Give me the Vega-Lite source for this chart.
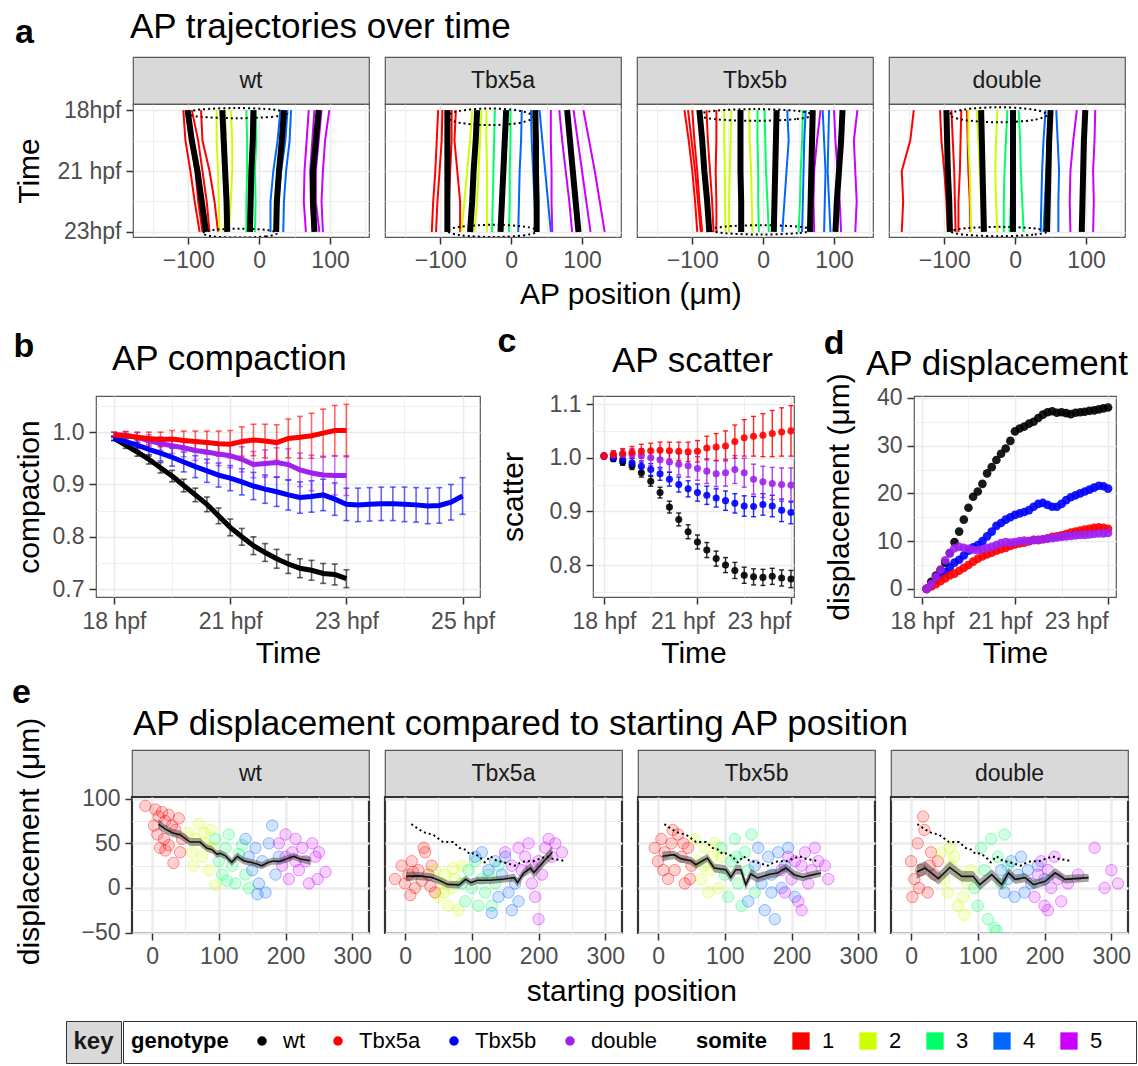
{
"$schema": "https://vega.github.io/schema/vega-lite/v6.json",
"padding": {"left": 12, "top": 9, "right": 4, "bottom": 4},
"background": "white",
"config": {
 "font": "Liberation Sans",
 "view": {"stroke": "#595959", "strokeWidth": 1.2},
 "axis": {"labelFont": "Liberation Sans", "titleFont": "Liberation Sans", "labelFontSize": 23, "labelColor": "#4d4d4d", "titleFontSize": 30, "titleFontWeight": "normal", "titleColor": "#000000", "tickColor": "#333333", "tickSize": 7, "tickWidth": 1.5, "domain": false, "grid": true, "gridColor": "#ebebeb", "labelPadding": 5},
 "title": {"font": "Liberation Sans", "fontSize": 35, "fontWeight": "normal", "color": "#000000"},
 "legend": {"labelFont": "Liberation Sans", "titleFont": "Liberation Sans"},
 "text": {"font": "Liberation Sans"}
},
"datasets": {
"traj": [
{"g":"wt","s":0,"i":"wm1","t":0,"x":-101},{"g":"wt","s":0,"i":"wm1","t":15,"x":-95},{"g":"wt","s":0,"i":"wm1","t":30,"x":-87},{"g":"wt","s":0,"i":"wm1","t":45,"x":-81},{"g":"wt","s":0,"i":"wm1","t":60,"x":-75},
{"g":"wt","s":0,"i":"wm2","t":0,"x":-52},{"g":"wt","s":0,"i":"wm2","t":15,"x":-50},{"g":"wt","s":0,"i":"wm2","t":30,"x":-48},{"g":"wt","s":0,"i":"wm2","t":45,"x":-46},{"g":"wt","s":0,"i":"wm2","t":60,"x":-45},
{"g":"wt","s":0,"i":"wm3","t":0,"x":-8},{"g":"wt","s":0,"i":"wm3","t":15,"x":-9},{"g":"wt","s":0,"i":"wm3","t":30,"x":-11},{"g":"wt","s":0,"i":"wm3","t":45,"x":-12},{"g":"wt","s":0,"i":"wm3","t":60,"x":-13},
{"g":"wt","s":0,"i":"wm4","t":0,"x":35},{"g":"wt","s":0,"i":"wm4","t":15,"x":32},{"g":"wt","s":0,"i":"wm4","t":30,"x":28},{"g":"wt","s":0,"i":"wm4","t":45,"x":25},{"g":"wt","s":0,"i":"wm4","t":60,"x":24},
{"g":"wt","s":0,"i":"wm5","t":0,"x":84},{"g":"wt","s":0,"i":"wm5","t":15,"x":80},{"g":"wt","s":0,"i":"wm5","t":30,"x":76},{"g":"wt","s":0,"i":"wm5","t":45,"x":76},{"g":"wt","s":0,"i":"wm5","t":60,"x":78},
{"g":"wt","s":1,"i":"w1a","t":0,"x":-107},{"g":"wt","s":1,"i":"w1a","t":15,"x":-104},{"g":"wt","s":1,"i":"w1a","t":30,"x":-97},{"g":"wt","s":1,"i":"w1a","t":45,"x":-91},{"g":"wt","s":1,"i":"w1a","t":60,"x":-84},
{"g":"wt","s":1,"i":"w1b","t":0,"x":-103},{"g":"wt","s":1,"i":"w1b","t":15,"x":-96},{"g":"wt","s":1,"i":"w1b","t":30,"x":-90},{"g":"wt","s":1,"i":"w1b","t":45,"x":-86},{"g":"wt","s":1,"i":"w1b","t":60,"x":-80},
{"g":"wt","s":1,"i":"w1c","t":0,"x":-95},{"g":"wt","s":1,"i":"w1c","t":15,"x":-86},{"g":"wt","s":1,"i":"w1c","t":30,"x":-80},{"g":"wt","s":1,"i":"w1c","t":45,"x":-74},{"g":"wt","s":1,"i":"w1c","t":60,"x":-70},
{"g":"wt","s":1,"i":"w1d","t":0,"x":-82},{"g":"wt","s":1,"i":"w1d","t":15,"x":-80},{"g":"wt","s":1,"i":"w1d","t":30,"x":-70},{"g":"wt","s":1,"i":"w1d","t":45,"x":-63},{"g":"wt","s":1,"i":"w1d","t":60,"x":-58},
{"g":"wt","s":2,"i":"w2a","t":0,"x":-60},{"g":"wt","s":2,"i":"w2a","t":15,"x":-60},{"g":"wt","s":2,"i":"w2a","t":30,"x":-58},{"g":"wt","s":2,"i":"w2a","t":45,"x":-57},{"g":"wt","s":2,"i":"w2a","t":60,"x":-56},
{"g":"wt","s":2,"i":"w2b","t":0,"x":-48},{"g":"wt","s":2,"i":"w2b","t":15,"x":-47},{"g":"wt","s":2,"i":"w2b","t":30,"x":-47},{"g":"wt","s":2,"i":"w2b","t":45,"x":-48},{"g":"wt","s":2,"i":"w2b","t":60,"x":-49},
{"g":"wt","s":2,"i":"w2c","t":0,"x":-40},{"g":"wt","s":2,"i":"w2c","t":15,"x":-38},{"g":"wt","s":2,"i":"w2c","t":30,"x":-38},{"g":"wt","s":2,"i":"w2c","t":45,"x":-40},{"g":"wt","s":2,"i":"w2c","t":60,"x":-43},
{"g":"wt","s":3,"i":"w3a","t":0,"x":-18},{"g":"wt","s":3,"i":"w3a","t":15,"x":-17},{"g":"wt","s":3,"i":"w3a","t":30,"x":-17},{"g":"wt","s":3,"i":"w3a","t":45,"x":-18},{"g":"wt","s":3,"i":"w3a","t":60,"x":-18},
{"g":"wt","s":3,"i":"w3b","t":0,"x":-5},{"g":"wt","s":3,"i":"w3b","t":15,"x":-4},{"g":"wt","s":3,"i":"w3b","t":30,"x":-6},{"g":"wt","s":3,"i":"w3b","t":45,"x":-5},{"g":"wt","s":3,"i":"w3b","t":60,"x":-6},
{"g":"wt","s":4,"i":"w4a","t":0,"x":30},{"g":"wt","s":4,"i":"w4a","t":15,"x":26},{"g":"wt","s":4,"i":"w4a","t":30,"x":20},{"g":"wt","s":4,"i":"w4a","t":45,"x":16},{"g":"wt","s":4,"i":"w4a","t":60,"x":16},
{"g":"wt","s":4,"i":"w4b","t":0,"x":40},{"g":"wt","s":4,"i":"w4b","t":15,"x":37},{"g":"wt","s":4,"i":"w4b","t":30,"x":31},{"g":"wt","s":4,"i":"w4b","t":45,"x":27},{"g":"wt","s":4,"i":"w4b","t":60,"x":25},
{"g":"wt","s":4,"i":"w4c","t":0,"x":45},{"g":"wt","s":4,"i":"w4c","t":15,"x":43},{"g":"wt","s":4,"i":"w4c","t":30,"x":38},{"g":"wt","s":4,"i":"w4c","t":45,"x":35},{"g":"wt","s":4,"i":"w4c","t":60,"x":34},
{"g":"wt","s":5,"i":"w5a","t":0,"x":70},{"g":"wt","s":5,"i":"w5a","t":15,"x":67},{"g":"wt","s":5,"i":"w5a","t":30,"x":64},{"g":"wt","s":5,"i":"w5a","t":45,"x":63},{"g":"wt","s":5,"i":"w5a","t":60,"x":66},
{"g":"wt","s":5,"i":"w5b","t":0,"x":78},{"g":"wt","s":5,"i":"w5b","t":15,"x":75},{"g":"wt","s":5,"i":"w5b","t":30,"x":72},{"g":"wt","s":5,"i":"w5b","t":45,"x":73},{"g":"wt","s":5,"i":"w5b","t":60,"x":76},
{"g":"wt","s":5,"i":"w5c","t":0,"x":88},{"g":"wt","s":5,"i":"w5c","t":15,"x":84},{"g":"wt","s":5,"i":"w5c","t":30,"x":80},{"g":"wt","s":5,"i":"w5c","t":45,"x":80},{"g":"wt","s":5,"i":"w5c","t":60,"x":85},
{"g":"wt","s":5,"i":"w5d","t":0,"x":99},{"g":"wt","s":5,"i":"w5d","t":15,"x":93},{"g":"wt","s":5,"i":"w5d","t":30,"x":90},{"g":"wt","s":5,"i":"w5d","t":45,"x":88},{"g":"wt","s":5,"i":"w5d","t":60,"x":90},
{"g":"Tbx5a","s":0,"i":"am1","t":0,"x":-90},{"g":"Tbx5a","s":0,"i":"am1","t":15,"x":-90},{"g":"Tbx5a","s":0,"i":"am1","t":30,"x":-90},{"g":"Tbx5a","s":0,"i":"am1","t":45,"x":-90},{"g":"Tbx5a","s":0,"i":"am1","t":60,"x":-90},
{"g":"Tbx5a","s":0,"i":"am2","t":0,"x":-48},{"g":"Tbx5a","s":0,"i":"am2","t":15,"x":-50},{"g":"Tbx5a","s":0,"i":"am2","t":30,"x":-53},{"g":"Tbx5a","s":0,"i":"am2","t":45,"x":-55},{"g":"Tbx5a","s":0,"i":"am2","t":60,"x":-58},
{"g":"Tbx5a","s":0,"i":"am3","t":0,"x":-7},{"g":"Tbx5a","s":0,"i":"am3","t":15,"x":-9},{"g":"Tbx5a","s":0,"i":"am3","t":30,"x":-11},{"g":"Tbx5a","s":0,"i":"am3","t":45,"x":-13},{"g":"Tbx5a","s":0,"i":"am3","t":60,"x":-15},
{"g":"Tbx5a","s":0,"i":"am4","t":0,"x":34},{"g":"Tbx5a","s":0,"i":"am4","t":15,"x":35},{"g":"Tbx5a","s":0,"i":"am4","t":30,"x":35},{"g":"Tbx5a","s":0,"i":"am4","t":45,"x":36},{"g":"Tbx5a","s":0,"i":"am4","t":60,"x":36},
{"g":"Tbx5a","s":0,"i":"am5","t":0,"x":79},{"g":"Tbx5a","s":0,"i":"am5","t":15,"x":83},{"g":"Tbx5a","s":0,"i":"am5","t":30,"x":87},{"g":"Tbx5a","s":0,"i":"am5","t":45,"x":91},{"g":"Tbx5a","s":0,"i":"am5","t":60,"x":95},
{"g":"Tbx5a","s":1,"i":"a1a","t":0,"x":-103},{"g":"Tbx5a","s":1,"i":"a1a","t":15,"x":-105},{"g":"Tbx5a","s":1,"i":"a1a","t":30,"x":-107},{"g":"Tbx5a","s":1,"i":"a1a","t":45,"x":-110},{"g":"Tbx5a","s":1,"i":"a1a","t":60,"x":-112},
{"g":"Tbx5a","s":1,"i":"a1b","t":0,"x":-97},{"g":"Tbx5a","s":1,"i":"a1b","t":15,"x":-98},{"g":"Tbx5a","s":1,"i":"a1b","t":30,"x":-101},{"g":"Tbx5a","s":1,"i":"a1b","t":45,"x":-104},{"g":"Tbx5a","s":1,"i":"a1b","t":60,"x":-106},
{"g":"Tbx5a","s":1,"i":"a1c","t":0,"x":-84},{"g":"Tbx5a","s":1,"i":"a1c","t":15,"x":-84},{"g":"Tbx5a","s":1,"i":"a1c","t":30,"x":-86},{"g":"Tbx5a","s":1,"i":"a1c","t":45,"x":-88},{"g":"Tbx5a","s":1,"i":"a1c","t":60,"x":-89},
{"g":"Tbx5a","s":1,"i":"a1d","t":0,"x":-78},{"g":"Tbx5a","s":1,"i":"a1d","t":15,"x":-80},{"g":"Tbx5a","s":1,"i":"a1d","t":30,"x":-76},{"g":"Tbx5a","s":1,"i":"a1d","t":45,"x":-72},{"g":"Tbx5a","s":1,"i":"a1d","t":60,"x":-72},
{"g":"Tbx5a","s":2,"i":"a2a","t":0,"x":-55},{"g":"Tbx5a","s":2,"i":"a2a","t":15,"x":-58},{"g":"Tbx5a","s":2,"i":"a2a","t":30,"x":-62},{"g":"Tbx5a","s":2,"i":"a2a","t":45,"x":-66},{"g":"Tbx5a","s":2,"i":"a2a","t":60,"x":-70},
{"g":"Tbx5a","s":2,"i":"a2b","t":0,"x":-42},{"g":"Tbx5a","s":2,"i":"a2b","t":15,"x":-44},{"g":"Tbx5a","s":2,"i":"a2b","t":30,"x":-46},{"g":"Tbx5a","s":2,"i":"a2b","t":45,"x":-48},{"g":"Tbx5a","s":2,"i":"a2b","t":60,"x":-52},
{"g":"Tbx5a","s":2,"i":"a2c","t":0,"x":-35},{"g":"Tbx5a","s":2,"i":"a2c","t":15,"x":-35},{"g":"Tbx5a","s":2,"i":"a2c","t":30,"x":-34},{"g":"Tbx5a","s":2,"i":"a2c","t":45,"x":-34},{"g":"Tbx5a","s":2,"i":"a2c","t":60,"x":-34},
{"g":"Tbx5a","s":3,"i":"a3a","t":0,"x":-23},{"g":"Tbx5a","s":3,"i":"a3a","t":15,"x":-24},{"g":"Tbx5a","s":3,"i":"a3a","t":30,"x":-25},{"g":"Tbx5a","s":3,"i":"a3a","t":45,"x":-26},{"g":"Tbx5a","s":3,"i":"a3a","t":60,"x":-27},
{"g":"Tbx5a","s":3,"i":"a3b","t":0,"x":-1},{"g":"Tbx5a","s":3,"i":"a3b","t":15,"x":-1},{"g":"Tbx5a","s":3,"i":"a3b","t":30,"x":-2},{"g":"Tbx5a","s":3,"i":"a3b","t":45,"x":-2},{"g":"Tbx5a","s":3,"i":"a3b","t":60,"x":-3},
{"g":"Tbx5a","s":4,"i":"a4a","t":0,"x":15},{"g":"Tbx5a","s":4,"i":"a4a","t":15,"x":14},{"g":"Tbx5a","s":4,"i":"a4a","t":30,"x":12},{"g":"Tbx5a","s":4,"i":"a4a","t":45,"x":11},{"g":"Tbx5a","s":4,"i":"a4a","t":60,"x":10},
{"g":"Tbx5a","s":4,"i":"a4b","t":0,"x":28},{"g":"Tbx5a","s":4,"i":"a4b","t":15,"x":29},{"g":"Tbx5a","s":4,"i":"a4b","t":30,"x":31},{"g":"Tbx5a","s":4,"i":"a4b","t":45,"x":33},{"g":"Tbx5a","s":4,"i":"a4b","t":60,"x":35},
{"g":"Tbx5a","s":4,"i":"a4c","t":0,"x":40},{"g":"Tbx5a","s":4,"i":"a4c","t":15,"x":44},{"g":"Tbx5a","s":4,"i":"a4c","t":30,"x":48},{"g":"Tbx5a","s":4,"i":"a4c","t":45,"x":52},{"g":"Tbx5a","s":4,"i":"a4c","t":60,"x":56},
{"g":"Tbx5a","s":5,"i":"a5a","t":0,"x":56},{"g":"Tbx5a","s":5,"i":"a5a","t":15,"x":56},{"g":"Tbx5a","s":5,"i":"a5a","t":30,"x":57},{"g":"Tbx5a","s":5,"i":"a5a","t":45,"x":57},{"g":"Tbx5a","s":5,"i":"a5a","t":60,"x":58},
{"g":"Tbx5a","s":5,"i":"a5b","t":0,"x":68},{"g":"Tbx5a","s":5,"i":"a5b","t":15,"x":72},{"g":"Tbx5a","s":5,"i":"a5b","t":30,"x":77},{"g":"Tbx5a","s":5,"i":"a5b","t":45,"x":82},{"g":"Tbx5a","s":5,"i":"a5b","t":60,"x":86},
{"g":"Tbx5a","s":5,"i":"a5c","t":0,"x":88},{"g":"Tbx5a","s":5,"i":"a5c","t":15,"x":94},{"g":"Tbx5a","s":5,"i":"a5c","t":30,"x":100},{"g":"Tbx5a","s":5,"i":"a5c","t":45,"x":106},{"g":"Tbx5a","s":5,"i":"a5c","t":60,"x":112},
{"g":"Tbx5a","s":5,"i":"a5d","t":0,"x":102},{"g":"Tbx5a","s":5,"i":"a5d","t":15,"x":110},{"g":"Tbx5a","s":5,"i":"a5d","t":30,"x":118},{"g":"Tbx5a","s":5,"i":"a5d","t":45,"x":125},{"g":"Tbx5a","s":5,"i":"a5d","t":60,"x":132},
{"g":"Tbx5b","s":0,"i":"bm1","t":0,"x":-90},{"g":"Tbx5b","s":0,"i":"bm1","t":15,"x":-86},{"g":"Tbx5b","s":0,"i":"bm1","t":30,"x":-83},{"g":"Tbx5b","s":0,"i":"bm1","t":45,"x":-79},{"g":"Tbx5b","s":0,"i":"bm1","t":60,"x":-76},
{"g":"Tbx5b","s":0,"i":"bm2","t":0,"x":-32},{"g":"Tbx5b","s":0,"i":"bm2","t":15,"x":-32},{"g":"Tbx5b","s":0,"i":"bm2","t":30,"x":-32},{"g":"Tbx5b","s":0,"i":"bm2","t":45,"x":-31},{"g":"Tbx5b","s":0,"i":"bm2","t":60,"x":-31},
{"g":"Tbx5b","s":0,"i":"bm3","t":0,"x":19},{"g":"Tbx5b","s":0,"i":"bm3","t":15,"x":18},{"g":"Tbx5b","s":0,"i":"bm3","t":30,"x":17},{"g":"Tbx5b","s":0,"i":"bm3","t":45,"x":16},{"g":"Tbx5b","s":0,"i":"bm3","t":60,"x":15},
{"g":"Tbx5b","s":0,"i":"bm4","t":0,"x":70},{"g":"Tbx5b","s":0,"i":"bm4","t":15,"x":69},{"g":"Tbx5b","s":0,"i":"bm4","t":30,"x":68},{"g":"Tbx5b","s":0,"i":"bm4","t":45,"x":67},{"g":"Tbx5b","s":0,"i":"bm4","t":60,"x":66},
{"g":"Tbx5b","s":0,"i":"bm5","t":0,"x":112},{"g":"Tbx5b","s":0,"i":"bm5","t":15,"x":110},{"g":"Tbx5b","s":0,"i":"bm5","t":30,"x":107},{"g":"Tbx5b","s":0,"i":"bm5","t":45,"x":104},{"g":"Tbx5b","s":0,"i":"bm5","t":60,"x":102},
{"g":"Tbx5b","s":1,"i":"b1a","t":0,"x":-111},{"g":"Tbx5b","s":1,"i":"b1a","t":15,"x":-105},{"g":"Tbx5b","s":1,"i":"b1a","t":30,"x":-100},{"g":"Tbx5b","s":1,"i":"b1a","t":45,"x":-96},{"g":"Tbx5b","s":1,"i":"b1a","t":60,"x":-93},
{"g":"Tbx5b","s":1,"i":"b1b","t":0,"x":-106},{"g":"Tbx5b","s":1,"i":"b1b","t":15,"x":-101},{"g":"Tbx5b","s":1,"i":"b1b","t":30,"x":-96},{"g":"Tbx5b","s":1,"i":"b1b","t":45,"x":-92},{"g":"Tbx5b","s":1,"i":"b1b","t":60,"x":-88},
{"g":"Tbx5b","s":1,"i":"b1c","t":0,"x":-100},{"g":"Tbx5b","s":1,"i":"b1c","t":15,"x":-97},{"g":"Tbx5b","s":1,"i":"b1c","t":30,"x":-93},{"g":"Tbx5b","s":1,"i":"b1c","t":45,"x":-90},{"g":"Tbx5b","s":1,"i":"b1c","t":60,"x":-86},
{"g":"Tbx5b","s":1,"i":"b1d","t":0,"x":-80},{"g":"Tbx5b","s":1,"i":"b1d","t":15,"x":-78},{"g":"Tbx5b","s":1,"i":"b1d","t":30,"x":-75},{"g":"Tbx5b","s":1,"i":"b1d","t":45,"x":-72},{"g":"Tbx5b","s":1,"i":"b1d","t":60,"x":-70},
{"g":"Tbx5b","s":1,"i":"b1e","t":0,"x":-66},{"g":"Tbx5b","s":1,"i":"b1e","t":15,"x":-66},{"g":"Tbx5b","s":1,"i":"b1e","t":30,"x":-67},{"g":"Tbx5b","s":1,"i":"b1e","t":45,"x":-66},{"g":"Tbx5b","s":1,"i":"b1e","t":60,"x":-66},
{"g":"Tbx5b","s":2,"i":"b2a","t":0,"x":-55},{"g":"Tbx5b","s":2,"i":"b2a","t":15,"x":-55},{"g":"Tbx5b","s":2,"i":"b2a","t":30,"x":-54},{"g":"Tbx5b","s":2,"i":"b2a","t":45,"x":-54},{"g":"Tbx5b","s":2,"i":"b2a","t":60,"x":-53},
{"g":"Tbx5b","s":2,"i":"b2b","t":0,"x":-45},{"g":"Tbx5b","s":2,"i":"b2b","t":15,"x":-46},{"g":"Tbx5b","s":2,"i":"b2b","t":30,"x":-47},{"g":"Tbx5b","s":2,"i":"b2b","t":45,"x":-48},{"g":"Tbx5b","s":2,"i":"b2b","t":60,"x":-48},
{"g":"Tbx5b","s":2,"i":"b2c","t":0,"x":-20},{"g":"Tbx5b","s":2,"i":"b2c","t":15,"x":-19},{"g":"Tbx5b","s":2,"i":"b2c","t":30,"x":-17},{"g":"Tbx5b","s":2,"i":"b2c","t":45,"x":-16},{"g":"Tbx5b","s":2,"i":"b2c","t":60,"x":-15},
{"g":"Tbx5b","s":3,"i":"b3a","t":0,"x":-8},{"g":"Tbx5b","s":3,"i":"b3a","t":15,"x":-8},{"g":"Tbx5b","s":3,"i":"b3a","t":30,"x":-7},{"g":"Tbx5b","s":3,"i":"b3a","t":45,"x":-7},{"g":"Tbx5b","s":3,"i":"b3a","t":60,"x":-6},
{"g":"Tbx5b","s":3,"i":"b3b","t":0,"x":2},{"g":"Tbx5b","s":3,"i":"b3b","t":15,"x":3},{"g":"Tbx5b","s":3,"i":"b3b","t":30,"x":4},{"g":"Tbx5b","s":3,"i":"b3b","t":45,"x":6},{"g":"Tbx5b","s":3,"i":"b3b","t":60,"x":8},
{"g":"Tbx5b","s":3,"i":"b3c","t":0,"x":56},{"g":"Tbx5b","s":3,"i":"b3c","t":15,"x":55},{"g":"Tbx5b","s":3,"i":"b3c","t":30,"x":53},{"g":"Tbx5b","s":3,"i":"b3c","t":45,"x":52},{"g":"Tbx5b","s":3,"i":"b3c","t":60,"x":50},
{"g":"Tbx5b","s":4,"i":"b4a","t":0,"x":34},{"g":"Tbx5b","s":4,"i":"b4a","t":15,"x":36},{"g":"Tbx5b","s":4,"i":"b4a","t":30,"x":33},{"g":"Tbx5b","s":4,"i":"b4a","t":45,"x":30},{"g":"Tbx5b","s":4,"i":"b4a","t":60,"x":27},
{"g":"Tbx5b","s":4,"i":"b4b","t":0,"x":60},{"g":"Tbx5b","s":4,"i":"b4b","t":15,"x":58},{"g":"Tbx5b","s":4,"i":"b4b","t":30,"x":57},{"g":"Tbx5b","s":4,"i":"b4b","t":45,"x":56},{"g":"Tbx5b","s":4,"i":"b4b","t":60,"x":55},
{"g":"Tbx5b","s":4,"i":"b4c","t":0,"x":84},{"g":"Tbx5b","s":4,"i":"b4c","t":15,"x":86},{"g":"Tbx5b","s":4,"i":"b4c","t":30,"x":88},{"g":"Tbx5b","s":4,"i":"b4c","t":45,"x":87},{"g":"Tbx5b","s":4,"i":"b4c","t":60,"x":86},
{"g":"Tbx5b","s":4,"i":"b4d","t":0,"x":93},{"g":"Tbx5b","s":4,"i":"b4d","t":15,"x":92},{"g":"Tbx5b","s":4,"i":"b4d","t":30,"x":91},{"g":"Tbx5b","s":4,"i":"b4d","t":45,"x":93},{"g":"Tbx5b","s":4,"i":"b4d","t":60,"x":95},
{"g":"Tbx5b","s":5,"i":"b5a","t":0,"x":81},{"g":"Tbx5b","s":5,"i":"b5a","t":15,"x":76},{"g":"Tbx5b","s":5,"i":"b5a","t":30,"x":72},{"g":"Tbx5b","s":5,"i":"b5a","t":45,"x":71},{"g":"Tbx5b","s":5,"i":"b5a","t":60,"x":72},
{"g":"Tbx5b","s":5,"i":"b5b","t":0,"x":100},{"g":"Tbx5b","s":5,"i":"b5b","t":15,"x":102},{"g":"Tbx5b","s":5,"i":"b5b","t":30,"x":105},{"g":"Tbx5b","s":5,"i":"b5b","t":45,"x":108},{"g":"Tbx5b","s":5,"i":"b5b","t":60,"x":110},
{"g":"Tbx5b","s":5,"i":"b5c","t":0,"x":133},{"g":"Tbx5b","s":5,"i":"b5c","t":15,"x":128},{"g":"Tbx5b","s":5,"i":"b5c","t":30,"x":130},{"g":"Tbx5b","s":5,"i":"b5c","t":45,"x":132},{"g":"Tbx5b","s":5,"i":"b5c","t":60,"x":130},
{"g":"double","s":0,"i":"dm1","t":0,"x":-97},{"g":"double","s":0,"i":"dm1","t":15,"x":-96},{"g":"double","s":0,"i":"dm1","t":30,"x":-95},{"g":"double","s":0,"i":"dm1","t":45,"x":-93},{"g":"double","s":0,"i":"dm1","t":60,"x":-92},
{"g":"double","s":0,"i":"dm2","t":0,"x":-48},{"g":"double","s":0,"i":"dm2","t":15,"x":-47},{"g":"double","s":0,"i":"dm2","t":30,"x":-46},{"g":"double","s":0,"i":"dm2","t":45,"x":-45},{"g":"double","s":0,"i":"dm2","t":60,"x":-44},
{"g":"double","s":0,"i":"dm3","t":0,"x":-3},{"g":"double","s":0,"i":"dm3","t":15,"x":-3},{"g":"double","s":0,"i":"dm3","t":30,"x":-3},{"g":"double","s":0,"i":"dm3","t":45,"x":-3},{"g":"double","s":0,"i":"dm3","t":60,"x":-3},
{"g":"double","s":0,"i":"dm4","t":0,"x":50},{"g":"double","s":0,"i":"dm4","t":15,"x":48},{"g":"double","s":0,"i":"dm4","t":30,"x":47},{"g":"double","s":0,"i":"dm4","t":45,"x":46},{"g":"double","s":0,"i":"dm4","t":60,"x":45},
{"g":"double","s":0,"i":"dm5","t":0,"x":99},{"g":"double","s":0,"i":"dm5","t":15,"x":97},{"g":"double","s":0,"i":"dm5","t":30,"x":96},{"g":"double","s":0,"i":"dm5","t":45,"x":95},{"g":"double","s":0,"i":"dm5","t":60,"x":94},
{"g":"double","s":1,"i":"d1a","t":0,"x":-143},{"g":"double","s":1,"i":"d1a","t":15,"x":-148},{"g":"double","s":1,"i":"d1a","t":30,"x":-160},{"g":"double","s":1,"i":"d1a","t":45,"x":-158},{"g":"double","s":1,"i":"d1a","t":60,"x":-160},
{"g":"double","s":1,"i":"d1b","t":0,"x":-106},{"g":"double","s":1,"i":"d1b","t":15,"x":-104},{"g":"double","s":1,"i":"d1b","t":30,"x":-100},{"g":"double","s":1,"i":"d1b","t":45,"x":-97},{"g":"double","s":1,"i":"d1b","t":60,"x":-95},
{"g":"double","s":1,"i":"d1c","t":0,"x":-90},{"g":"double","s":1,"i":"d1c","t":15,"x":-88},{"g":"double","s":1,"i":"d1c","t":30,"x":-86},{"g":"double","s":1,"i":"d1c","t":45,"x":-85},{"g":"double","s":1,"i":"d1c","t":60,"x":-84},
{"g":"double","s":1,"i":"d1d","t":0,"x":-76},{"g":"double","s":1,"i":"d1d","t":15,"x":-77},{"g":"double","s":1,"i":"d1d","t":30,"x":-78},{"g":"double","s":1,"i":"d1d","t":45,"x":-80},{"g":"double","s":1,"i":"d1d","t":60,"x":-80},
{"g":"double","s":1,"i":"d1e","t":0,"x":-68},{"g":"double","s":1,"i":"d1e","t":15,"x":-67},{"g":"double","s":1,"i":"d1e","t":30,"x":-66},{"g":"double","s":1,"i":"d1e","t":45,"x":-64},{"g":"double","s":1,"i":"d1e","t":60,"x":-63},
{"g":"double","s":2,"i":"d2a","t":0,"x":-66},{"g":"double","s":2,"i":"d2a","t":15,"x":-66},{"g":"double","s":2,"i":"d2a","t":30,"x":-64},{"g":"double","s":2,"i":"d2a","t":45,"x":-63},{"g":"double","s":2,"i":"d2a","t":60,"x":-62},
{"g":"double","s":2,"i":"d2b","t":0,"x":-54},{"g":"double","s":2,"i":"d2b","t":15,"x":-52},{"g":"double","s":2,"i":"d2b","t":30,"x":-50},{"g":"double","s":2,"i":"d2b","t":45,"x":-48},{"g":"double","s":2,"i":"d2b","t":60,"x":-46},
{"g":"double","s":2,"i":"d2c","t":0,"x":-25},{"g":"double","s":2,"i":"d2c","t":15,"x":-27},{"g":"double","s":2,"i":"d2c","t":30,"x":-28},{"g":"double","s":2,"i":"d2c","t":45,"x":-27},{"g":"double","s":2,"i":"d2c","t":60,"x":-25},
{"g":"double","s":3,"i":"d3a","t":0,"x":-11},{"g":"double","s":3,"i":"d3a","t":15,"x":-13},{"g":"double","s":3,"i":"d3a","t":30,"x":-15},{"g":"double","s":3,"i":"d3a","t":45,"x":-16},{"g":"double","s":3,"i":"d3a","t":60,"x":-16},
{"g":"double","s":3,"i":"d3b","t":0,"x":5},{"g":"double","s":3,"i":"d3b","t":15,"x":7},{"g":"double","s":3,"i":"d3b","t":30,"x":8},{"g":"double","s":3,"i":"d3b","t":45,"x":10},{"g":"double","s":3,"i":"d3b","t":60,"x":12},
{"g":"double","s":3,"i":"d3c","t":0,"x":0},{"g":"double","s":3,"i":"d3c","t":15,"x":-2},{"g":"double","s":3,"i":"d3c","t":30,"x":-4},{"g":"double","s":3,"i":"d3c","t":45,"x":-6},{"g":"double","s":3,"i":"d3c","t":60,"x":-8},
{"g":"double","s":4,"i":"d4a","t":0,"x":43},{"g":"double","s":4,"i":"d4a","t":15,"x":40},{"g":"double","s":4,"i":"d4a","t":30,"x":38},{"g":"double","s":4,"i":"d4a","t":45,"x":37},{"g":"double","s":4,"i":"d4a","t":60,"x":36},
{"g":"double","s":4,"i":"d4b","t":0,"x":58},{"g":"double","s":4,"i":"d4b","t":15,"x":60},{"g":"double","s":4,"i":"d4b","t":30,"x":62},{"g":"double","s":4,"i":"d4b","t":45,"x":61},{"g":"double","s":4,"i":"d4b","t":60,"x":61},
{"g":"double","s":4,"i":"d4c","t":0,"x":52},{"g":"double","s":4,"i":"d4c","t":15,"x":47},{"g":"double","s":4,"i":"d4c","t":30,"x":44},{"g":"double","s":4,"i":"d4c","t":45,"x":42},{"g":"double","s":4,"i":"d4c","t":60,"x":40},
{"g":"double","s":5,"i":"d5a","t":0,"x":87},{"g":"double","s":5,"i":"d5a","t":15,"x":82},{"g":"double","s":5,"i":"d5a","t":30,"x":78},{"g":"double","s":5,"i":"d5a","t":45,"x":77},{"g":"double","s":5,"i":"d5a","t":60,"x":78},
{"g":"double","s":5,"i":"d5b","t":0,"x":113},{"g":"double","s":5,"i":"d5b","t":15,"x":112},{"g":"double","s":5,"i":"d5b","t":30,"x":110},{"g":"double","s":5,"i":"d5b","t":45,"x":111},{"g":"double","s":5,"i":"d5b","t":60,"x":110},
{"g":"double","s":5,"i":"d5c","t":0,"x":100},{"g":"double","s":5,"i":"d5c","t":15,"x":98},{"g":"double","s":5,"i":"d5c","t":30,"x":95},{"g":"double","s":5,"i":"d5c","t":45,"x":94},{"g":"double","s":5,"i":"d5c","t":60,"x":92}
],
"ell": [
{"g":"wt","e":"t","o":0,"t":1.5,"x":40},{"g":"wt","e":"t","o":1,"t":3.3,"x":19.1},{"g":"wt","e":"t","o":2,"t":4,"x":-31.5},{"g":"wt","e":"t","o":3,"t":3.3,"x":-82.1},{"g":"wt","e":"t","o":4,"t":1.5,"x":-103},{"g":"wt","e":"t","o":5,"t":-0.3,"x":-82.1},{"g":"wt","e":"t","o":6,"t":-1,"x":-31.5},{"g":"wt","e":"t","o":7,"t":-0.3,"x":19.1},
{"g":"wt","e":"b","o":0,"t":60.6,"x":25},{"g":"wt","e":"b","o":1,"t":62.2,"x":9.6},{"g":"wt","e":"b","o":2,"t":62.8,"x":-27.5},{"g":"wt","e":"b","o":3,"t":62.2,"x":-64.6},{"g":"wt","e":"b","o":4,"t":60.6,"x":-80},{"g":"wt","e":"b","o":5,"t":59,"x":-64.6},{"g":"wt","e":"b","o":6,"t":58.4,"x":-27.5},{"g":"wt","e":"b","o":7,"t":59,"x":9.6},
{"g":"Tbx5a","e":"t","o":0,"t":3.3,"x":31},{"g":"Tbx5a","e":"t","o":1,"t":6.2,"x":13.1},{"g":"Tbx5a","e":"t","o":2,"t":7.4,"x":-30},{"g":"Tbx5a","e":"t","o":3,"t":6.2,"x":-73.1},{"g":"Tbx5a","e":"t","o":4,"t":3.3,"x":-91},{"g":"Tbx5a","e":"t","o":5,"t":0.4,"x":-73.1},{"g":"Tbx5a","e":"t","o":6,"t":-0.8,"x":-30},{"g":"Tbx5a","e":"t","o":7,"t":0.4,"x":13.1},
{"g":"Tbx5a","e":"b","o":0,"t":59.5,"x":38},{"g":"Tbx5a","e":"b","o":1,"t":61.6,"x":19.2},{"g":"Tbx5a","e":"b","o":2,"t":62.5,"x":-26},{"g":"Tbx5a","e":"b","o":3,"t":61.6,"x":-71.2},{"g":"Tbx5a","e":"b","o":4,"t":59.5,"x":-90},{"g":"Tbx5a","e":"b","o":5,"t":57.4,"x":-71.2},{"g":"Tbx5a","e":"b","o":6,"t":56.5,"x":-26},{"g":"Tbx5a","e":"b","o":7,"t":57.4,"x":19.2},
{"g":"Tbx5b","e":"t","o":0,"t":2.4,"x":70},{"g":"Tbx5b","e":"t","o":1,"t":4.45,"x":46.3},{"g":"Tbx5b","e":"t","o":2,"t":5.3,"x":-11},{"g":"Tbx5b","e":"t","o":3,"t":4.45,"x":-68.3},{"g":"Tbx5b","e":"t","o":4,"t":2.4,"x":-92},{"g":"Tbx5b","e":"t","o":5,"t":0.35,"x":-68.3},{"g":"Tbx5b","e":"t","o":6,"t":-0.5,"x":-11},{"g":"Tbx5b","e":"t","o":7,"t":0.35,"x":46.3},
{"g":"Tbx5b","e":"b","o":0,"t":59,"x":70},{"g":"Tbx5b","e":"b","o":1,"t":60.6,"x":48.6},{"g":"Tbx5b","e":"b","o":2,"t":61.3,"x":-3},{"g":"Tbx5b","e":"b","o":3,"t":60.6,"x":-54.6},{"g":"Tbx5b","e":"b","o":4,"t":59,"x":-76},{"g":"Tbx5b","e":"b","o":5,"t":57.4,"x":-54.6},{"g":"Tbx5b","e":"b","o":6,"t":56.7,"x":-3},{"g":"Tbx5b","e":"b","o":7,"t":57.4,"x":48.6},
{"g":"double","e":"t","o":0,"t":2.3,"x":45},{"g":"double","e":"t","o":1,"t":4.9,"x":24.9},{"g":"double","e":"t","o":2,"t":6,"x":-23.5},{"g":"double","e":"t","o":3,"t":4.9,"x":-71.9},{"g":"double","e":"t","o":4,"t":2.3,"x":-92},{"g":"double","e":"t","o":5,"t":-0.3,"x":-71.9},{"g":"double","e":"t","o":6,"t":-1.4,"x":-23.5},{"g":"double","e":"t","o":7,"t":-0.3,"x":24.9},
{"g":"double","e":"b","o":0,"t":59.8,"x":45},{"g":"double","e":"b","o":1,"t":61.4,"x":25.2},{"g":"double","e":"b","o":2,"t":62.1,"x":-22.5},{"g":"double","e":"b","o":3,"t":61.4,"x":-70.2},{"g":"double","e":"b","o":4,"t":59.8,"x":-90},{"g":"double","e":"b","o":5,"t":58.2,"x":-70.2},{"g":"double","e":"b","o":6,"t":57.5,"x":-22.5},{"g":"double","e":"b","o":7,"t":58.2,"x":25.2}
],
"comp": [
{"g":"wt","f":0,"v":0.988,"lo":0.984,"hi":0.992},{"g":"wt","f":4,"v":0.975,"lo":0.969,"hi":0.981},{"g":"wt","f":8,"v":0.962,"lo":0.954,"hi":0.970},{"g":"wt","f":12,"v":0.948,"lo":0.939,"hi":0.957},{"g":"wt","f":16,"v":0.932,"lo":0.922,"hi":0.942},{"g":"wt","f":20,"v":0.916,"lo":0.905,"hi":0.927},{"g":"wt","f":24,"v":0.898,"lo":0.886,"hi":0.910},{"g":"wt","f":28,"v":0.880,"lo":0.867,"hi":0.893},{"g":"wt","f":32,"v":0.862,"lo":0.848,"hi":0.876},{"g":"wt","f":36,"v":0.840,"lo":0.825,"hi":0.855},{"g":"wt","f":40,"v":0.818,"lo":0.802,"hi":0.834},{"g":"wt","f":44,"v":0.800,"lo":0.784,"hi":0.816},{"g":"wt","f":48,"v":0.783,"lo":0.766,"hi":0.800},{"g":"wt","f":52,"v":0.770,"lo":0.753,"hi":0.787},{"g":"wt","f":56,"v":0.758,"lo":0.740,"hi":0.776},{"g":"wt","f":60,"v":0.748,"lo":0.730,"hi":0.766},{"g":"wt","f":64,"v":0.740,"lo":0.722,"hi":0.758},{"g":"wt","f":68,"v":0.736,"lo":0.717,"hi":0.755},{"g":"wt","f":72,"v":0.730,"lo":0.711,"hi":0.749},{"g":"wt","f":76,"v":0.728,"lo":0.708,"hi":0.748},{"g":"wt","f":80,"v":0.720,"lo":0.703,"hi":0.737},
{"g":"Tbx5b","f":0,"v":0.988,"lo":0.984,"hi":0.992},{"g":"Tbx5b","f":4,"v":0.982,"lo":0.975,"hi":0.989},{"g":"Tbx5b","f":8,"v":0.975,"lo":0.965,"hi":0.985},{"g":"Tbx5b","f":12,"v":0.967,"lo":0.954,"hi":0.980},{"g":"Tbx5b","f":16,"v":0.960,"lo":0.945,"hi":0.975},{"g":"Tbx5b","f":20,"v":0.952,"lo":0.935,"hi":0.969},{"g":"Tbx5b","f":24,"v":0.943,"lo":0.924,"hi":0.962},{"g":"Tbx5b","f":28,"v":0.934,"lo":0.913,"hi":0.955},{"g":"Tbx5b","f":32,"v":0.926,"lo":0.904,"hi":0.948},{"g":"Tbx5b","f":36,"v":0.918,"lo":0.895,"hi":0.941},{"g":"Tbx5b","f":40,"v":0.912,"lo":0.888,"hi":0.936},{"g":"Tbx5b","f":44,"v":0.905,"lo":0.880,"hi":0.930},{"g":"Tbx5b","f":48,"v":0.897,"lo":0.871,"hi":0.923},{"g":"Tbx5b","f":52,"v":0.891,"lo":0.864,"hi":0.918},{"g":"Tbx5b","f":56,"v":0.886,"lo":0.858,"hi":0.914},{"g":"Tbx5b","f":60,"v":0.880,"lo":0.851,"hi":0.909},{"g":"Tbx5b","f":64,"v":0.875,"lo":0.845,"hi":0.905},{"g":"Tbx5b","f":68,"v":0.877,"lo":0.847,"hi":0.907},{"g":"Tbx5b","f":72,"v":0.880,"lo":0.850,"hi":0.910},{"g":"Tbx5b","f":76,"v":0.872,"lo":0.841,"hi":0.903},{"g":"Tbx5b","f":80,"v":0.862,"lo":0.831,"hi":0.893},{"g":"Tbx5b","f":84,"v":0.861,"lo":0.829,"hi":0.893},{"g":"Tbx5b","f":88,"v":0.862,"lo":0.830,"hi":0.894},{"g":"Tbx5b","f":92,"v":0.863,"lo":0.831,"hi":0.895},{"g":"Tbx5b","f":96,"v":0.863,"lo":0.831,"hi":0.895},{"g":"Tbx5b","f":100,"v":0.862,"lo":0.829,"hi":0.895},{"g":"Tbx5b","f":104,"v":0.861,"lo":0.828,"hi":0.894},{"g":"Tbx5b","f":108,"v":0.859,"lo":0.825,"hi":0.893},{"g":"Tbx5b","f":112,"v":0.860,"lo":0.826,"hi":0.894},{"g":"Tbx5b","f":116,"v":0.866,"lo":0.832,"hi":0.900},{"g":"Tbx5b","f":120,"v":0.878,"lo":0.843,"hi":0.913},
{"g":"double","f":0,"v":0.995,"lo":0.990,"hi":1.000},{"g":"double","f":4,"v":0.994,"lo":0.987,"hi":1.001},{"g":"double","f":8,"v":0.990,"lo":0.981,"hi":0.999},{"g":"double","f":12,"v":0.984,"lo":0.973,"hi":0.995},{"g":"double","f":16,"v":0.978,"lo":0.965,"hi":0.991},{"g":"double","f":20,"v":0.974,"lo":0.959,"hi":0.989},{"g":"double","f":24,"v":0.970,"lo":0.953,"hi":0.987},{"g":"double","f":28,"v":0.965,"lo":0.946,"hi":0.984},{"g":"double","f":32,"v":0.962,"lo":0.941,"hi":0.983},{"g":"double","f":36,"v":0.958,"lo":0.936,"hi":0.980},{"g":"double","f":40,"v":0.955,"lo":0.932,"hi":0.978},{"g":"double","f":44,"v":0.948,"lo":0.924,"hi":0.972},{"g":"double","f":48,"v":0.938,"lo":0.913,"hi":0.963},{"g":"double","f":52,"v":0.940,"lo":0.914,"hi":0.966},{"g":"double","f":56,"v":0.942,"lo":0.914,"hi":0.970},{"g":"double","f":60,"v":0.938,"lo":0.908,"hi":0.968},{"g":"double","f":64,"v":0.928,"lo":0.896,"hi":0.960},{"g":"double","f":68,"v":0.922,"lo":0.888,"hi":0.956},{"g":"double","f":72,"v":0.918,"lo":0.882,"hi":0.954},{"g":"double","f":76,"v":0.917,"lo":0.880,"hi":0.954},{"g":"double","f":80,"v":0.917,"lo":0.879,"hi":0.955},
{"g":"Tbx5a","f":0,"v":0.995,"lo":0.990,"hi":1.000},{"g":"Tbx5a","f":4,"v":0.993,"lo":0.985,"hi":1.001},{"g":"Tbx5a","f":8,"v":0.990,"lo":0.980,"hi":1.000},{"g":"Tbx5a","f":12,"v":0.988,"lo":0.976,"hi":1.000},{"g":"Tbx5a","f":16,"v":0.986,"lo":0.972,"hi":1.000},{"g":"Tbx5a","f":20,"v":0.987,"lo":0.971,"hi":1.003},{"g":"Tbx5a","f":24,"v":0.984,"lo":0.966,"hi":1.002},{"g":"Tbx5a","f":28,"v":0.982,"lo":0.962,"hi":1.002},{"g":"Tbx5a","f":32,"v":0.980,"lo":0.958,"hi":1.002},{"g":"Tbx5a","f":36,"v":0.978,"lo":0.954,"hi":1.002},{"g":"Tbx5a","f":40,"v":0.977,"lo":0.951,"hi":1.003},{"g":"Tbx5a","f":44,"v":0.982,"lo":0.954,"hi":1.010},{"g":"Tbx5a","f":48,"v":0.985,"lo":0.955,"hi":1.015},{"g":"Tbx5a","f":52,"v":0.983,"lo":0.951,"hi":1.015},{"g":"Tbx5a","f":56,"v":0.980,"lo":0.946,"hi":1.014},{"g":"Tbx5a","f":60,"v":0.988,"lo":0.951,"hi":1.025},{"g":"Tbx5a","f":64,"v":0.990,"lo":0.950,"hi":1.030},{"g":"Tbx5a","f":68,"v":0.993,"lo":0.950,"hi":1.036},{"g":"Tbx5a","f":72,"v":0.998,"lo":0.952,"hi":1.044},{"g":"Tbx5a","f":76,"v":1.003,"lo":0.955,"hi":1.051},{"g":"Tbx5a","f":80,"v":1.003,"lo":0.953,"hi":1.053}
],
"scat": [
{"g":"wt","f":0,"v":1.003,"lo":1.000,"hi":1.006},{"g":"wt","f":4,"v":0.998,"lo":0.993,"hi":1.003},{"g":"wt","f":8,"v":0.992,"lo":0.986,"hi":0.998},{"g":"wt","f":12,"v":0.985,"lo":0.978,"hi":0.992},{"g":"wt","f":16,"v":0.972,"lo":0.964,"hi":0.980},{"g":"wt","f":20,"v":0.956,"lo":0.947,"hi":0.965},{"g":"wt","f":24,"v":0.935,"lo":0.925,"hi":0.945},{"g":"wt","f":28,"v":0.908,"lo":0.897,"hi":0.919},{"g":"wt","f":32,"v":0.885,"lo":0.873,"hi":0.897},{"g":"wt","f":36,"v":0.862,"lo":0.849,"hi":0.875},{"g":"wt","f":40,"v":0.843,"lo":0.830,"hi":0.856},{"g":"wt","f":44,"v":0.828,"lo":0.814,"hi":0.842},{"g":"wt","f":48,"v":0.812,"lo":0.798,"hi":0.826},{"g":"wt","f":52,"v":0.800,"lo":0.786,"hi":0.814},{"g":"wt","f":56,"v":0.790,"lo":0.775,"hi":0.805},{"g":"wt","f":60,"v":0.781,"lo":0.766,"hi":0.796},{"g":"wt","f":64,"v":0.778,"lo":0.763,"hi":0.793},{"g":"wt","f":68,"v":0.777,"lo":0.762,"hi":0.792},{"g":"wt","f":72,"v":0.779,"lo":0.764,"hi":0.794},{"g":"wt","f":76,"v":0.776,"lo":0.761,"hi":0.791},{"g":"wt","f":80,"v":0.774,"lo":0.758,"hi":0.790},
{"g":"Tbx5b","f":0,"v":1.003,"lo":0.999,"hi":1.007},{"g":"Tbx5b","f":4,"v":1.000,"lo":0.994,"hi":1.006},{"g":"Tbx5b","f":8,"v":0.996,"lo":0.988,"hi":1.004},{"g":"Tbx5b","f":12,"v":0.990,"lo":0.981,"hi":0.999},{"g":"Tbx5b","f":16,"v":0.984,"lo":0.974,"hi":0.994},{"g":"Tbx5b","f":20,"v":0.978,"lo":0.967,"hi":0.989},{"g":"Tbx5b","f":24,"v":0.970,"lo":0.958,"hi":0.982},{"g":"Tbx5b","f":28,"v":0.960,"lo":0.947,"hi":0.973},{"g":"Tbx5b","f":32,"v":0.950,"lo":0.936,"hi":0.964},{"g":"Tbx5b","f":36,"v":0.942,"lo":0.927,"hi":0.957},{"g":"Tbx5b","f":40,"v":0.935,"lo":0.919,"hi":0.951},{"g":"Tbx5b","f":44,"v":0.930,"lo":0.913,"hi":0.947},{"g":"Tbx5b","f":48,"v":0.925,"lo":0.908,"hi":0.942},{"g":"Tbx5b","f":52,"v":0.920,"lo":0.902,"hi":0.938},{"g":"Tbx5b","f":56,"v":0.915,"lo":0.897,"hi":0.933},{"g":"Tbx5b","f":60,"v":0.910,"lo":0.891,"hi":0.929},{"g":"Tbx5b","f":64,"v":0.909,"lo":0.890,"hi":0.928},{"g":"Tbx5b","f":68,"v":0.913,"lo":0.893,"hi":0.933},{"g":"Tbx5b","f":72,"v":0.910,"lo":0.890,"hi":0.930},{"g":"Tbx5b","f":76,"v":0.902,"lo":0.881,"hi":0.923},{"g":"Tbx5b","f":80,"v":0.898,"lo":0.877,"hi":0.919},
{"g":"double","f":0,"v":1.003,"lo":0.998,"hi":1.008},{"g":"double","f":4,"v":1.005,"lo":0.998,"hi":1.012},{"g":"double","f":8,"v":1.006,"lo":0.997,"hi":1.015},{"g":"double","f":12,"v":1.006,"lo":0.995,"hi":1.017},{"g":"double","f":16,"v":1.004,"lo":0.991,"hi":1.017},{"g":"double","f":20,"v":1.000,"lo":0.985,"hi":1.015},{"g":"double","f":24,"v":0.996,"lo":0.979,"hi":1.013},{"g":"double","f":28,"v":0.992,"lo":0.973,"hi":1.011},{"g":"double","f":32,"v":0.988,"lo":0.968,"hi":1.008},{"g":"double","f":36,"v":0.985,"lo":0.964,"hi":1.006},{"g":"double","f":40,"v":0.980,"lo":0.958,"hi":1.002},{"g":"double","f":44,"v":0.975,"lo":0.952,"hi":0.998},{"g":"double","f":48,"v":0.970,"lo":0.946,"hi":0.994},{"g":"double","f":52,"v":0.972,"lo":0.947,"hi":0.997},{"g":"double","f":56,"v":0.978,"lo":0.952,"hi":1.004},{"g":"double","f":60,"v":0.972,"lo":0.945,"hi":0.999},{"g":"double","f":64,"v":0.960,"lo":0.932,"hi":0.988},{"g":"double","f":68,"v":0.955,"lo":0.926,"hi":0.984},{"g":"double","f":72,"v":0.952,"lo":0.922,"hi":0.982},{"g":"double","f":76,"v":0.950,"lo":0.919,"hi":0.981},{"g":"double","f":80,"v":0.949,"lo":0.917,"hi":0.981},
{"g":"Tbx5a","f":0,"v":1.003,"lo":0.998,"hi":1.008},{"g":"Tbx5a","f":4,"v":1.006,"lo":0.999,"hi":1.013},{"g":"Tbx5a","f":8,"v":1.008,"lo":0.999,"hi":1.017},{"g":"Tbx5a","f":12,"v":1.010,"lo":0.999,"hi":1.021},{"g":"Tbx5a","f":16,"v":1.012,"lo":0.999,"hi":1.025},{"g":"Tbx5a","f":20,"v":1.013,"lo":0.999,"hi":1.027},{"g":"Tbx5a","f":24,"v":1.014,"lo":0.999,"hi":1.029},{"g":"Tbx5a","f":28,"v":1.013,"lo":0.997,"hi":1.029},{"g":"Tbx5a","f":32,"v":1.012,"lo":0.995,"hi":1.029},{"g":"Tbx5a","f":36,"v":1.011,"lo":0.993,"hi":1.029},{"g":"Tbx5a","f":40,"v":1.012,"lo":0.992,"hi":1.032},{"g":"Tbx5a","f":44,"v":1.018,"lo":0.996,"hi":1.040},{"g":"Tbx5a","f":48,"v":1.020,"lo":0.995,"hi":1.045},{"g":"Tbx5a","f":52,"v":1.022,"lo":0.994,"hi":1.050},{"g":"Tbx5a","f":56,"v":1.030,"lo":0.999,"hi":1.061},{"g":"Tbx5a","f":60,"v":1.037,"lo":1.003,"hi":1.071},{"g":"Tbx5a","f":64,"v":1.040,"lo":1.003,"hi":1.077},{"g":"Tbx5a","f":68,"v":1.042,"lo":1.002,"hi":1.082},{"g":"Tbx5a","f":72,"v":1.045,"lo":1.002,"hi":1.088},{"g":"Tbx5a","f":76,"v":1.048,"lo":1.003,"hi":1.093},{"g":"Tbx5a","f":80,"v":1.050,"lo":1.003,"hi":1.097}
],
"disp": [
{"g":"wt","f":2,"v":0},{"g":"wt","f":4,"v":1.5},{"g":"wt","f":6,"v":2.8},{"g":"wt","f":8,"v":4},{"g":"wt","f":10,"v":5.5},{"g":"wt","f":12,"v":7.5},{"g":"wt","f":14,"v":9.8},{"g":"wt","f":16,"v":12},{"g":"wt","f":18,"v":14.5},{"g":"wt","f":20,"v":17},{"g":"wt","f":22,"v":19.3},{"g":"wt","f":24,"v":20.4},{"g":"wt","f":26,"v":22},{"g":"wt","f":28,"v":24.2},{"g":"wt","f":30,"v":25.5},{"g":"wt","f":32,"v":27},{"g":"wt","f":34,"v":28.3},{"g":"wt","f":36,"v":29.4},{"g":"wt","f":38,"v":31},{"g":"wt","f":40,"v":33},{"g":"wt","f":42,"v":33.6},{"g":"wt","f":44,"v":34},{"g":"wt","f":46,"v":34.6},{"g":"wt","f":48,"v":35},{"g":"wt","f":50,"v":35.8},{"g":"wt","f":52,"v":36.5},{"g":"wt","f":54,"v":37},{"g":"wt","f":56,"v":37.2},{"g":"wt","f":58,"v":36.9},{"g":"wt","f":60,"v":37},{"g":"wt","f":62,"v":36.8},{"g":"wt","f":64,"v":36.6},{"g":"wt","f":66,"v":36.9},{"g":"wt","f":68,"v":37},{"g":"wt","f":70,"v":37.1},{"g":"wt","f":72,"v":37.3},{"g":"wt","f":74,"v":37.4},{"g":"wt","f":76,"v":37.6},{"g":"wt","f":78,"v":37.8},{"g":"wt","f":80,"v":38},
{"g":"Tbx5b","f":2,"v":0},{"g":"Tbx5b","f":4,"v":0.8},{"g":"Tbx5b","f":6,"v":1.8},{"g":"Tbx5b","f":8,"v":2.8},{"g":"Tbx5b","f":10,"v":3.5},{"g":"Tbx5b","f":12,"v":4.5},{"g":"Tbx5b","f":14,"v":5.5},{"g":"Tbx5b","f":16,"v":6.1},{"g":"Tbx5b","f":18,"v":7},{"g":"Tbx5b","f":20,"v":8},{"g":"Tbx5b","f":22,"v":8.7},{"g":"Tbx5b","f":24,"v":9.2},{"g":"Tbx5b","f":26,"v":10},{"g":"Tbx5b","f":28,"v":11},{"g":"Tbx5b","f":30,"v":12},{"g":"Tbx5b","f":32,"v":13.2},{"g":"Tbx5b","f":34,"v":13.8},{"g":"Tbx5b","f":36,"v":14.5},{"g":"Tbx5b","f":38,"v":15},{"g":"Tbx5b","f":40,"v":15.5},{"g":"Tbx5b","f":42,"v":15.8},{"g":"Tbx5b","f":44,"v":16.1},{"g":"Tbx5b","f":46,"v":16.5},{"g":"Tbx5b","f":48,"v":17.2},{"g":"Tbx5b","f":50,"v":17.8},{"g":"Tbx5b","f":52,"v":18},{"g":"Tbx5b","f":54,"v":17.6},{"g":"Tbx5b","f":56,"v":17.2},{"g":"Tbx5b","f":58,"v":17.2},{"g":"Tbx5b","f":60,"v":17.8},{"g":"Tbx5b","f":62,"v":18.6},{"g":"Tbx5b","f":64,"v":19.2},{"g":"Tbx5b","f":66,"v":19.6},{"g":"Tbx5b","f":68,"v":20},{"g":"Tbx5b","f":70,"v":20.4},{"g":"Tbx5b","f":72,"v":20.8},{"g":"Tbx5b","f":74,"v":21.2},{"g":"Tbx5b","f":76,"v":21.6},{"g":"Tbx5b","f":78,"v":21.5},{"g":"Tbx5b","f":80,"v":21},
{"g":"Tbx5a","f":2,"v":0},{"g":"Tbx5a","f":4,"v":0.5},{"g":"Tbx5a","f":6,"v":1},{"g":"Tbx5a","f":8,"v":1.6},{"g":"Tbx5a","f":10,"v":2.2},{"g":"Tbx5a","f":12,"v":2.8},{"g":"Tbx5a","f":14,"v":3.2},{"g":"Tbx5a","f":16,"v":3.8},{"g":"Tbx5a","f":18,"v":4.4},{"g":"Tbx5a","f":20,"v":5},{"g":"Tbx5a","f":22,"v":5.7},{"g":"Tbx5a","f":24,"v":6.3},{"g":"Tbx5a","f":26,"v":6.8},{"g":"Tbx5a","f":28,"v":7.2},{"g":"Tbx5a","f":30,"v":7.6},{"g":"Tbx5a","f":32,"v":8},{"g":"Tbx5a","f":34,"v":8.3},{"g":"Tbx5a","f":36,"v":8.6},{"g":"Tbx5a","f":38,"v":9},{"g":"Tbx5a","f":40,"v":9.3},{"g":"Tbx5a","f":42,"v":9.5},{"g":"Tbx5a","f":44,"v":9.7},{"g":"Tbx5a","f":46,"v":10},{"g":"Tbx5a","f":48,"v":10.3},{"g":"Tbx5a","f":50,"v":10.2},{"g":"Tbx5a","f":52,"v":10.4},{"g":"Tbx5a","f":54,"v":10.6},{"g":"Tbx5a","f":56,"v":10.9},{"g":"Tbx5a","f":58,"v":11},{"g":"Tbx5a","f":60,"v":11.2},{"g":"Tbx5a","f":62,"v":11.5},{"g":"Tbx5a","f":64,"v":11.8},{"g":"Tbx5a","f":66,"v":12},{"g":"Tbx5a","f":68,"v":12.2},{"g":"Tbx5a","f":70,"v":12.4},{"g":"Tbx5a","f":72,"v":12.6},{"g":"Tbx5a","f":74,"v":12.8},{"g":"Tbx5a","f":76,"v":12.9},{"g":"Tbx5a","f":78,"v":12.8},{"g":"Tbx5a","f":80,"v":12.6},
{"g":"double","f":2,"v":0},{"g":"double","f":4,"v":1},{"g":"double","f":6,"v":2.5},{"g":"double","f":8,"v":4},{"g":"double","f":10,"v":6},{"g":"double","f":12,"v":7.5},{"g":"double","f":14,"v":8.5},{"g":"double","f":16,"v":8.8},{"g":"double","f":18,"v":8.6},{"g":"double","f":20,"v":8.4},{"g":"double","f":22,"v":8.2},{"g":"double","f":24,"v":8.1},{"g":"double","f":26,"v":8.3},{"g":"double","f":28,"v":8.6},{"g":"double","f":30,"v":8.8},{"g":"double","f":32,"v":9.2},{"g":"double","f":34,"v":9.6},{"g":"double","f":36,"v":9.8},{"g":"double","f":38,"v":9.7},{"g":"double","f":40,"v":9.8},{"g":"double","f":42,"v":10},{"g":"double","f":44,"v":10.1},{"g":"double","f":46,"v":10},{"g":"double","f":48,"v":10.2},{"g":"double","f":50,"v":10.3},{"g":"double","f":52,"v":10.4},{"g":"double","f":54,"v":10.5},{"g":"double","f":56,"v":10.6},{"g":"double","f":58,"v":10.8},{"g":"double","f":60,"v":10.9},{"g":"double","f":62,"v":11},{"g":"double","f":64,"v":11.1},{"g":"double","f":66,"v":11.2},{"g":"double","f":68,"v":11.3},{"g":"double","f":70,"v":11.3},{"g":"double","f":72,"v":11.4},{"g":"double","f":74,"v":11.5},{"g":"double","f":76,"v":11.6},{"g":"double","f":78,"v":11.6},{"g":"double","f":80,"v":11.7}
],
"epts": [
{"g":"wt","x":-10,"y":92,"s":1},{"g":"wt","x":5,"y":88,"s":1},{"g":"wt","x":10,"y":80,"s":1},{"g":"wt","x":15,"y":85,"s":1},{"g":"wt","x":20,"y":75,"s":1},{"g":"wt","x":25,"y":82,"s":1},{"g":"wt","x":30,"y":70,"s":1},{"g":"wt","x":8,"y":60,"s":1},{"g":"wt","x":12,"y":45,"s":1},{"g":"wt","x":18,"y":55,"s":1},{"g":"wt","x":25,"y":48,"s":1},{"g":"wt","x":35,"y":65,"s":1},{"g":"wt","x":40,"y":78,"s":1},{"g":"wt","x":45,"y":55,"s":1},{"g":"wt","x":32,"y":28,"s":1},{"g":"wt","x":20,"y":42,"s":1},{"g":"wt","x":42,"y":40,"s":1},{"g":"wt","x":3,"y":70,"s":1},
{"g":"wt","x":55,"y":62,"s":2},{"g":"wt","x":60,"y":40,"s":2},{"g":"wt","x":65,"y":55,"s":2},{"g":"wt","x":70,"y":72,"s":2},{"g":"wt","x":75,"y":35,"s":2},{"g":"wt","x":80,"y":50,"s":2},{"g":"wt","x":85,"y":20,"s":2},{"g":"wt","x":90,"y":45,"s":2},{"g":"wt","x":95,"y":3,"s":2},{"g":"wt","x":62,"y":25,"s":2},{"g":"wt","x":78,"y":62,"s":2},{"g":"wt","x":88,"y":65,"s":2},
{"g":"wt","x":95,"y":55,"s":3},{"g":"wt","x":100,"y":30,"s":3},{"g":"wt","x":105,"y":15,"s":3},{"g":"wt","x":110,"y":45,"s":3},{"g":"wt","x":115,"y":60,"s":3},{"g":"wt","x":120,"y":25,"s":3},{"g":"wt","x":125,"y":5,"s":3},{"g":"wt","x":130,"y":38,"s":3},{"g":"wt","x":135,"y":48,"s":3},{"g":"wt","x":140,"y":15,"s":3},{"g":"wt","x":145,"y":0,"s":3},{"g":"wt","x":112,"y":8,"s":3},
{"g":"wt","x":140,"y":55,"s":4},{"g":"wt","x":145,"y":35,"s":4},{"g":"wt","x":150,"y":20,"s":4},{"g":"wt","x":155,"y":45,"s":4},{"g":"wt","x":160,"y":5,"s":4},{"g":"wt","x":165,"y":30,"s":4},{"g":"wt","x":170,"y":-5,"s":4},{"g":"wt","x":175,"y":50,"s":4},{"g":"wt","x":180,"y":70,"s":4},{"g":"wt","x":185,"y":15,"s":4},{"g":"wt","x":190,"y":35,"s":4},{"g":"wt","x":158,"y":-7,"s":4},
{"g":"wt","x":190,"y":50,"s":5},{"g":"wt","x":195,"y":25,"s":5},{"g":"wt","x":200,"y":60,"s":5},{"g":"wt","x":205,"y":10,"s":5},{"g":"wt","x":210,"y":40,"s":5},{"g":"wt","x":215,"y":55,"s":5},{"g":"wt","x":220,"y":20,"s":5},{"g":"wt","x":225,"y":45,"s":5},{"g":"wt","x":230,"y":30,"s":5},{"g":"wt","x":235,"y":5,"s":5},{"g":"wt","x":240,"y":50,"s":5},{"g":"wt","x":245,"y":35,"s":5},{"g":"wt","x":250,"y":40,"s":5},{"g":"wt","x":260,"y":18,"s":5},{"g":"wt","x":248,"y":10,"s":5},{"g":"wt","x":200,"y":35,"s":5},{"g":"wt","x":215,"y":30,"s":5},
{"g":"Tbx5a","x":-15,"y":10,"s":1},{"g":"Tbx5a","x":-5,"y":25,"s":1},{"g":"Tbx5a","x":0,"y":5,"s":1},{"g":"Tbx5a","x":5,"y":15,"s":1},{"g":"Tbx5a","x":10,"y":30,"s":1},{"g":"Tbx5a","x":15,"y":0,"s":1},{"g":"Tbx5a","x":20,"y":20,"s":1},{"g":"Tbx5a","x":25,"y":8,"s":1},{"g":"Tbx5a","x":30,"y":40,"s":1},{"g":"Tbx5a","x":35,"y":15,"s":1},{"g":"Tbx5a","x":40,"y":25,"s":1},{"g":"Tbx5a","x":45,"y":-5,"s":1},{"g":"Tbx5a","x":12,"y":18,"s":1},{"g":"Tbx5a","x":28,"y":45,"s":1},{"g":"Tbx5a","x":38,"y":2,"s":1},{"g":"Tbx5a","x":8,"y":-8,"s":1},
{"g":"Tbx5a","x":45,"y":20,"s":2},{"g":"Tbx5a","x":50,"y":-10,"s":2},{"g":"Tbx5a","x":55,"y":5,"s":2},{"g":"Tbx5a","x":60,"y":15,"s":2},{"g":"Tbx5a","x":65,"y":-20,"s":2},{"g":"Tbx5a","x":70,"y":0,"s":2},{"g":"Tbx5a","x":75,"y":10,"s":2},{"g":"Tbx5a","x":80,"y":-25,"s":2},{"g":"Tbx5a","x":85,"y":25,"s":2},{"g":"Tbx5a","x":58,"y":-5,"s":2},{"g":"Tbx5a","x":72,"y":22,"s":2},
{"g":"Tbx5a","x":85,"y":5,"s":3},{"g":"Tbx5a","x":90,"y":-15,"s":3},{"g":"Tbx5a","x":95,"y":20,"s":3},{"g":"Tbx5a","x":100,"y":0,"s":3},{"g":"Tbx5a","x":105,"y":30,"s":3},{"g":"Tbx5a","x":110,"y":-20,"s":3},{"g":"Tbx5a","x":115,"y":10,"s":3},{"g":"Tbx5a","x":120,"y":-5,"s":3},{"g":"Tbx5a","x":125,"y":15,"s":3},{"g":"Tbx5a","x":130,"y":-20,"s":3},{"g":"Tbx5a","x":135,"y":5,"s":3},{"g":"Tbx5a","x":140,"y":25,"s":3},
{"g":"Tbx5a","x":105,"y":35,"s":4},{"g":"Tbx5a","x":115,"y":40,"s":4},{"g":"Tbx5a","x":125,"y":20,"s":4},{"g":"Tbx5a","x":135,"y":30,"s":4},{"g":"Tbx5a","x":140,"y":-10,"s":4},{"g":"Tbx5a","x":145,"y":15,"s":4},{"g":"Tbx5a","x":150,"y":35,"s":4},{"g":"Tbx5a","x":155,"y":-5,"s":4},{"g":"Tbx5a","x":160,"y":-25,"s":4},{"g":"Tbx5a","x":165,"y":5,"s":4},{"g":"Tbx5a","x":170,"y":-15,"s":4},{"g":"Tbx5a","x":130,"y":-28,"s":4},
{"g":"Tbx5a","x":150,"y":40,"s":5},{"g":"Tbx5a","x":160,"y":25,"s":5},{"g":"Tbx5a","x":170,"y":45,"s":5},{"g":"Tbx5a","x":175,"y":20,"s":5},{"g":"Tbx5a","x":180,"y":35,"s":5},{"g":"Tbx5a","x":185,"y":50,"s":5},{"g":"Tbx5a","x":190,"y":5,"s":5},{"g":"Tbx5a","x":195,"y":-10,"s":5},{"g":"Tbx5a","x":200,"y":30,"s":5},{"g":"Tbx5a","x":205,"y":15,"s":5},{"g":"Tbx5a","x":210,"y":45,"s":5},{"g":"Tbx5a","x":215,"y":55,"s":5},{"g":"Tbx5a","x":220,"y":35,"s":5},{"g":"Tbx5a","x":225,"y":50,"s":5},{"g":"Tbx5a","x":235,"y":40,"s":5},{"g":"Tbx5a","x":200,"y":-35,"s":5},{"g":"Tbx5a","x":190,"y":25,"s":5},
{"g":"Tbx5b","x":-5,"y":45,"s":1},{"g":"Tbx5b","x":0,"y":30,"s":1},{"g":"Tbx5b","x":5,"y":55,"s":1},{"g":"Tbx5b","x":10,"y":40,"s":1},{"g":"Tbx5b","x":15,"y":10,"s":1},{"g":"Tbx5b","x":20,"y":50,"s":1},{"g":"Tbx5b","x":25,"y":20,"s":1},{"g":"Tbx5b","x":30,"y":60,"s":1},{"g":"Tbx5b","x":35,"y":35,"s":1},{"g":"Tbx5b","x":40,"y":5,"s":1},{"g":"Tbx5b","x":45,"y":45,"s":1},{"g":"Tbx5b","x":50,"y":25,"s":1},{"g":"Tbx5b","x":8,"y":20,"s":1},{"g":"Tbx5b","x":22,"y":65,"s":1},{"g":"Tbx5b","x":38,"y":50,"s":1},{"g":"Tbx5b","x":48,"y":10,"s":1},
{"g":"Tbx5b","x":55,"y":55,"s":2},{"g":"Tbx5b","x":60,"y":30,"s":2},{"g":"Tbx5b","x":65,"y":10,"s":2},{"g":"Tbx5b","x":70,"y":45,"s":2},{"g":"Tbx5b","x":75,"y":-5,"s":2},{"g":"Tbx5b","x":80,"y":20,"s":2},{"g":"Tbx5b","x":85,"y":50,"s":2},{"g":"Tbx5b","x":90,"y":0,"s":2},{"g":"Tbx5b","x":95,"y":35,"s":2},{"g":"Tbx5b","x":68,"y":25,"s":2},{"g":"Tbx5b","x":82,"y":35,"s":2},
{"g":"Tbx5b","x":95,"y":45,"s":3},{"g":"Tbx5b","x":100,"y":15,"s":3},{"g":"Tbx5b","x":105,"y":-10,"s":3},{"g":"Tbx5b","x":110,"y":30,"s":3},{"g":"Tbx5b","x":115,"y":55,"s":3},{"g":"Tbx5b","x":120,"y":5,"s":3},{"g":"Tbx5b","x":125,"y":-20,"s":3},{"g":"Tbx5b","x":130,"y":40,"s":3},{"g":"Tbx5b","x":135,"y":20,"s":3},{"g":"Tbx5b","x":140,"y":60,"s":3},{"g":"Tbx5b","x":145,"y":-5,"s":3},{"g":"Tbx5b","x":118,"y":35,"s":3},
{"g":"Tbx5b","x":135,"y":-15,"s":4},{"g":"Tbx5b","x":145,"y":25,"s":4},{"g":"Tbx5b","x":150,"y":45,"s":4},{"g":"Tbx5b","x":155,"y":5,"s":4},{"g":"Tbx5b","x":160,"y":-25,"s":4},{"g":"Tbx5b","x":165,"y":35,"s":4},{"g":"Tbx5b","x":170,"y":15,"s":4},{"g":"Tbx5b","x":175,"y":-35,"s":4},{"g":"Tbx5b","x":180,"y":40,"s":4},{"g":"Tbx5b","x":185,"y":0,"s":4},{"g":"Tbx5b","x":190,"y":25,"s":4},{"g":"Tbx5b","x":195,"y":45,"s":4},{"g":"Tbx5b","x":205,"y":-10,"s":4},{"g":"Tbx5b","x":170,"y":-5,"s":4},
{"g":"Tbx5b","x":185,"y":20,"s":5},{"g":"Tbx5b","x":190,"y":-5,"s":5},{"g":"Tbx5b","x":195,"y":35,"s":5},{"g":"Tbx5b","x":200,"y":10,"s":5},{"g":"Tbx5b","x":205,"y":30,"s":5},{"g":"Tbx5b","x":210,"y":-15,"s":5},{"g":"Tbx5b","x":215,"y":25,"s":5},{"g":"Tbx5b","x":220,"y":40,"s":5},{"g":"Tbx5b","x":225,"y":5,"s":5},{"g":"Tbx5b","x":230,"y":20,"s":5},{"g":"Tbx5b","x":240,"y":30,"s":5},{"g":"Tbx5b","x":250,"y":25,"s":5},{"g":"Tbx5b","x":255,"y":10,"s":5},{"g":"Tbx5b","x":215,"y":-25,"s":5},{"g":"Tbx5b","x":235,"y":45,"s":5},
{"g":"double","x":0,"y":30,"s":1},{"g":"double","x":5,"y":10,"s":1},{"g":"double","x":10,"y":50,"s":1},{"g":"double","x":15,"y":20,"s":1},{"g":"double","x":20,"y":65,"s":1},{"g":"double","x":25,"y":-5,"s":1},{"g":"double","x":30,"y":40,"s":1},{"g":"double","x":35,"y":15,"s":1},{"g":"double","x":2,"y":-10,"s":1},{"g":"double","x":18,"y":80,"s":1},{"g":"double","x":28,"y":25,"s":1},{"g":"double","x":40,"y":30,"s":1},{"g":"double","x":12,"y":0,"s":1},
{"g":"double","x":45,"y":40,"s":2},{"g":"double","x":50,"y":10,"s":2},{"g":"double","x":55,"y":-5,"s":2},{"g":"double","x":60,"y":25,"s":2},{"g":"double","x":65,"y":35,"s":2},{"g":"double","x":70,"y":-20,"s":2},{"g":"double","x":75,"y":15,"s":2},{"g":"double","x":80,"y":-30,"s":2},{"g":"double","x":85,"y":5,"s":2},{"g":"double","x":90,"y":20,"s":2},{"g":"double","x":58,"y":45,"s":2},{"g":"double","x":78,"y":-10,"s":2},
{"g":"double","x":95,"y":0,"s":3},{"g":"double","x":100,"y":-20,"s":3},{"g":"double","x":105,"y":45,"s":3},{"g":"double","x":110,"y":20,"s":3},{"g":"double","x":115,"y":-35,"s":3},{"g":"double","x":120,"y":55,"s":3},{"g":"double","x":125,"y":-45,"s":3},{"g":"double","x":130,"y":35,"s":3},{"g":"double","x":135,"y":5,"s":3},{"g":"double","x":140,"y":60,"s":3},{"g":"double","x":145,"y":25,"s":3},{"g":"double","x":128,"y":-48,"s":3},
{"g":"double","x":135,"y":20,"s":4},{"g":"double","x":140,"y":-5,"s":4},{"g":"double","x":145,"y":10,"s":4},{"g":"double","x":150,"y":30,"s":4},{"g":"double","x":155,"y":-10,"s":4},{"g":"double","x":160,"y":15,"s":4},{"g":"double","x":165,"y":35,"s":4},{"g":"double","x":170,"y":-5,"s":4},{"g":"double","x":175,"y":20,"s":4},{"g":"double","x":180,"y":5,"s":4},{"g":"double","x":190,"y":25,"s":4},{"g":"double","x":200,"y":10,"s":4},
{"g":"double","x":185,"y":-10,"s":5},{"g":"double","x":190,"y":15,"s":5},{"g":"double","x":195,"y":30,"s":5},{"g":"double","x":200,"y":-20,"s":5},{"g":"double","x":205,"y":20,"s":5},{"g":"double","x":210,"y":0,"s":5},{"g":"double","x":215,"y":35,"s":5},{"g":"double","x":220,"y":10,"s":5},{"g":"double","x":225,"y":-15,"s":5},{"g":"double","x":235,"y":5,"s":5},{"g":"double","x":250,"y":15,"s":5},{"g":"double","x":275,"y":45,"s":5},{"g":"double","x":290,"y":0,"s":5},{"g":"double","x":300,"y":20,"s":5},{"g":"double","x":310,"y":5,"s":5},{"g":"double","x":205,"y":-25,"s":5}
],
"eline": [
{"g":"wt","x":9.5,"y":71.6,"lo":66,"hi":77},{"g":"wt","x":20,"y":66,"lo":61,"hi":71},{"g":"wt","x":30,"y":62,"lo":57.5,"hi":66.5},{"g":"wt","x":42,"y":59.7,"lo":55,"hi":64.5},{"g":"wt","x":57,"y":51.5,"lo":47,"hi":56},{"g":"wt","x":72,"y":51.5,"lo":47,"hi":56},{"g":"wt","x":82,"y":44.8,"lo":40.5,"hi":49},{"g":"wt","x":90,"y":43,"lo":39,"hi":47},{"g":"wt","x":97,"y":38,"lo":34,"hi":42},{"g":"wt","x":102,"y":38.8,"lo":35,"hi":42.6},{"g":"wt","x":110,"y":36,"lo":32,"hi":40},{"g":"wt","x":119.5,"y":28.7,"lo":24.5,"hi":33},{"g":"wt","x":128,"y":35.5,"lo":31,"hi":40},{"g":"wt","x":137,"y":30.6,"lo":26.5,"hi":34.7},{"g":"wt","x":152,"y":28,"lo":24,"hi":32},{"g":"wt","x":164.5,"y":25,"lo":21,"hi":29},{"g":"wt","x":172,"y":28,"lo":24,"hi":32},{"g":"wt","x":179.5,"y":30,"lo":26,"hi":34},{"g":"wt","x":192,"y":30,"lo":26,"hi":34},{"g":"wt","x":212,"y":35.5,"lo":31.5,"hi":39.5},{"g":"wt","x":222,"y":32.5,"lo":28.5,"hi":36.5},{"g":"wt","x":237,"y":30.6,"lo":26,"hi":35},
{"g":"Tbx5a","x":1.5,"y":13,"lo":7.5,"hi":18.5},{"g":"Tbx5a","x":20,"y":13.5,"lo":9,"hi":18},{"g":"Tbx5a","x":39,"y":12,"lo":7.5,"hi":16.5},{"g":"Tbx5a","x":50,"y":9,"lo":4.5,"hi":13.5},{"g":"Tbx5a","x":64,"y":4,"lo":0,"hi":8},{"g":"Tbx5a","x":81,"y":3.5,"lo":-0.5,"hi":7.5},{"g":"Tbx5a","x":91,"y":9.7,"lo":5.5,"hi":14},{"g":"Tbx5a","x":98.6,"y":6,"lo":2,"hi":10},{"g":"Tbx5a","x":108.6,"y":8.6,"lo":4.5,"hi":12.7},{"g":"Tbx5a","x":128.5,"y":8.6,"lo":4.5,"hi":12.7},{"g":"Tbx5a","x":148.5,"y":10,"lo":6,"hi":14},{"g":"Tbx5a","x":163.4,"y":11.6,"lo":7,"hi":16},{"g":"Tbx5a","x":168.4,"y":6,"lo":1,"hi":11},{"g":"Tbx5a","x":178,"y":17,"lo":12,"hi":22},{"g":"Tbx5a","x":188,"y":22.4,"lo":17,"hi":28},{"g":"Tbx5a","x":193,"y":17,"lo":11,"hi":23},{"g":"Tbx5a","x":208,"y":30,"lo":24,"hi":36},{"g":"Tbx5a","x":220.7,"y":40,"lo":33,"hi":47},
{"g":"Tbx5b","x":6.5,"y":35.5,"lo":30,"hi":41},{"g":"Tbx5b","x":24,"y":37.3,"lo":32.5,"hi":42},{"g":"Tbx5b","x":34,"y":32.9,"lo":28.5,"hi":37.3},{"g":"Tbx5b","x":49,"y":30.6,"lo":26,"hi":35},{"g":"Tbx5b","x":56.5,"y":26.1,"lo":21.5,"hi":30.7},{"g":"Tbx5b","x":74,"y":33.6,"lo":29,"hi":38},{"g":"Tbx5b","x":84,"y":22.4,"lo":17.5,"hi":27.3},{"g":"Tbx5b","x":101.5,"y":20.5,"lo":15.5,"hi":25.5},{"g":"Tbx5b","x":109,"y":12,"lo":6.5,"hi":17.5},{"g":"Tbx5b","x":116.5,"y":20.5,"lo":15,"hi":26},{"g":"Tbx5b","x":124,"y":20.5,"lo":15,"hi":26},{"g":"Tbx5b","x":131.5,"y":3.7,"lo":-2,"hi":9.5},{"g":"Tbx5b","x":139,"y":15.7,"lo":10,"hi":21.5},{"g":"Tbx5b","x":149,"y":11.2,"lo":6,"hi":16.5},{"g":"Tbx5b","x":169,"y":15.7,"lo":11,"hi":20.5},{"g":"Tbx5b","x":179,"y":16.8,"lo":12,"hi":21.5},{"g":"Tbx5b","x":191.5,"y":22.4,"lo":17.5,"hi":27.3},{"g":"Tbx5b","x":204,"y":14.9,"lo":10,"hi":20},{"g":"Tbx5b","x":216.5,"y":12,"lo":7.5,"hi":16.5},{"g":"Tbx5b","x":229,"y":14.2,"lo":10,"hi":18.5},{"g":"Tbx5b","x":244,"y":16.8,"lo":12.5,"hi":21},
{"g":"double","x":8.5,"y":18,"lo":10,"hi":26},{"g":"double","x":21,"y":22.4,"lo":15,"hi":30},{"g":"double","x":41,"y":10.5,"lo":4,"hi":17},{"g":"double","x":58,"y":23,"lo":16,"hi":30},{"g":"double","x":76,"y":13,"lo":7,"hi":19},{"g":"double","x":93,"y":13,"lo":7,"hi":19},{"g":"double","x":103,"y":3.7,"lo":-2.5,"hi":10},{"g":"double","x":121,"y":15,"lo":9,"hi":21},{"g":"double","x":136,"y":3.7,"lo":-2,"hi":9.5},{"g":"double","x":146,"y":17,"lo":11.5,"hi":22.5},{"g":"double","x":156,"y":9.7,"lo":4.5,"hi":15},{"g":"double","x":171,"y":11.6,"lo":6.5,"hi":16.7},{"g":"double","x":183.5,"y":3.7,"lo":-1.5,"hi":9},{"g":"double","x":201,"y":7.5,"lo":2.5,"hi":12.5},{"g":"double","x":216,"y":17,"lo":11.5,"hi":22.5},{"g":"double","x":231,"y":9.7,"lo":5,"hi":14.5},{"g":"double","x":266,"y":11.6,"lo":7,"hi":16}
]
},
"resolve": {"legend": {"color": "independent", "fill": "independent", "stroke": "independent"}},
"columns": 1,
"spacing": 14,
"concat": [
{
 "title": {"text": "a", "anchor": "start", "frame": "bounds", "fontSize": 34, "fontWeight": "bold", "offset": -40, "dx": 3},
 "vconcat": [{
  "title": {"text": "AP trajectories over time", "anchor": "start", "frame": "bounds", "dx": 118, "offset": 6.6},
  "vconcat": [{
   "title": {"text": "AP position (μm)", "orient": "bottom", "anchor": "middle", "frame": "bounds", "fontSize": 30, "dx": 62, "offset": 7},
   "spacing": 0,
   "hconcat": [
    {"width": 1, "height": 1, "view": {"stroke": null}, "data": {"values": [{"l": ""}]}, "mark": {"type": "text"}, "encoding": {"text": {"field": "l"}}},
    {"spacing": 14, "hconcat": [
    {"spacing": 0, "bounds": "flush", "vconcat": [
      {"width": 236, "height": 47, "view": {"fill": "#d9d9d9", "stroke": "#595959", "strokeWidth": 1.2}, "data": {"values": [{"lab": "wt"}]}, "mark": {"type": "text", "fontSize": 23, "color": "#1a1a1a"}, "encoding": {"text": {"field": "lab"}}},
      {"width": 236, "height": 133,
       "encoding": {
         "x": {"field": "x", "type": "quantitative", "title": null, "scale": {"domain": [-178, 155], "nice": false, "zero": false}, "axis": {"values": [-150,-100,-50,0,50,100,150], "labelExpr": "datum.value % 100 === 0 ? datum.label : ''", "labelFlush": false, "tickOpacity": {"condition": {"test": "datum.value % 100 !== 0", "value": 0}, "value": 1}, "gridWidth": {"condition": {"test": "datum.value % 100 !== 0", "value": 0.8}, "value": 1.6}}},
         "y": {"field": "t", "type": "quantitative", "title": "Time", "scale": {"domain": [-3, 62.5], "reverse": true, "nice": false, "zero": false}, "axis": {"values": [0,15,30,45,60], "labelExpr": "datum.value === 0 ? '18hpf' : datum.value === 30 ? '21 hpf' : datum.value === 60 ? '23hpf' : ''", "titlePadding": 13, "tickOpacity": {"condition": {"test": "datum.value % 30 !== 0", "value": 0}, "value": 1}, "gridWidth": {"condition": {"test": "datum.value % 30 !== 0", "value": 0.8}, "value": 1.6}}}
       },
       "layer": [
        {"data": {"name": "traj"}, "transform": [{"filter": "datum.g === 'wt' && datum.s > 0"}], "mark": {"type": "line", "strokeWidth": 2, "clip": true}, "encoding": {"stroke": {"field": "s", "type": "nominal", "scale": {"domain": [1,2,3,4,5], "range": ["#ff0000","#ccff00","#00ff66","#0066ff","#cc00ff"]}, "legend": null}, "detail": {"field": "i"}, "order": {"field": "t", "type": "quantitative"}}},
        {"data": {"name": "traj"}, "transform": [{"filter": "datum.g === 'wt' && datum.s === 0"}], "mark": {"type": "line", "strokeWidth": 6, "color": "#000000", "clip": true}, "encoding": {"detail": {"field": "i"}, "order": {"field": "t", "type": "quantitative"}}},
        {"data": {"name": "ell"}, "transform": [{"filter": "datum.g === 'wt'"}], "mark": {"type": "line", "interpolate": "cardinal-closed", "strokeDash": [2, 3], "strokeWidth": 2, "color": "#000000", "clip": true}, "encoding": {"detail": {"field": "e"}, "order": {"field": "o", "type": "quantitative"}}}
       ]}
    ]},
    {"spacing": 0, "bounds": "flush", "vconcat": [
      {"width": 236, "height": 47, "view": {"fill": "#d9d9d9", "stroke": "#595959", "strokeWidth": 1.2}, "data": {"values": [{"lab": "Tbx5a"}]}, "mark": {"type": "text", "fontSize": 23, "color": "#1a1a1a"}, "encoding": {"text": {"field": "lab"}}},
      {"width": 236, "height": 133,
       "encoding": {
         "x": {"field": "x", "type": "quantitative", "title": null, "scale": {"domain": [-178, 155], "nice": false, "zero": false}, "axis": {"values": [-150,-100,-50,0,50,100,150], "labelExpr": "datum.value % 100 === 0 ? datum.label : ''", "labelFlush": false, "tickOpacity": {"condition": {"test": "datum.value % 100 !== 0", "value": 0}, "value": 1}, "gridWidth": {"condition": {"test": "datum.value % 100 !== 0", "value": 0.8}, "value": 1.6}}},
         "y": {"field": "t", "type": "quantitative", "title": null, "scale": {"domain": [-3, 62.5], "reverse": true, "nice": false, "zero": false}, "axis": {"values": [0,15,30,45,60], "labels": false, "ticks": false, "gridWidth": {"condition": {"test": "datum.value % 30 !== 0", "value": 0.8}, "value": 1.6}}}
       },
       "layer": [
        {"data": {"name": "traj"}, "transform": [{"filter": "datum.g === 'Tbx5a' && datum.s > 0"}], "mark": {"type": "line", "strokeWidth": 2, "clip": true}, "encoding": {"stroke": {"field": "s", "type": "nominal", "scale": {"domain": [1,2,3,4,5], "range": ["#ff0000","#ccff00","#00ff66","#0066ff","#cc00ff"]}, "legend": null}, "detail": {"field": "i"}, "order": {"field": "t", "type": "quantitative"}}},
        {"data": {"name": "traj"}, "transform": [{"filter": "datum.g === 'Tbx5a' && datum.s === 0"}], "mark": {"type": "line", "strokeWidth": 6, "color": "#000000", "clip": true}, "encoding": {"detail": {"field": "i"}, "order": {"field": "t", "type": "quantitative"}}},
        {"data": {"name": "ell"}, "transform": [{"filter": "datum.g === 'Tbx5a'"}], "mark": {"type": "line", "interpolate": "cardinal-closed", "strokeDash": [2, 3], "strokeWidth": 2, "color": "#000000", "clip": true}, "encoding": {"detail": {"field": "e"}, "order": {"field": "o", "type": "quantitative"}}}
       ]}
    ]},
    {"spacing": 0, "bounds": "flush", "vconcat": [
      {"width": 236, "height": 47, "view": {"fill": "#d9d9d9", "stroke": "#595959", "strokeWidth": 1.2}, "data": {"values": [{"lab": "Tbx5b"}]}, "mark": {"type": "text", "fontSize": 23, "color": "#1a1a1a"}, "encoding": {"text": {"field": "lab"}}},
      {"width": 236, "height": 133,
       "encoding": {
         "x": {"field": "x", "type": "quantitative", "title": null, "scale": {"domain": [-178, 155], "nice": false, "zero": false}, "axis": {"values": [-150,-100,-50,0,50,100,150], "labelExpr": "datum.value % 100 === 0 ? datum.label : ''", "labelFlush": false, "tickOpacity": {"condition": {"test": "datum.value % 100 !== 0", "value": 0}, "value": 1}, "gridWidth": {"condition": {"test": "datum.value % 100 !== 0", "value": 0.8}, "value": 1.6}}},
         "y": {"field": "t", "type": "quantitative", "title": null, "scale": {"domain": [-3, 62.5], "reverse": true, "nice": false, "zero": false}, "axis": {"values": [0,15,30,45,60], "labels": false, "ticks": false, "gridWidth": {"condition": {"test": "datum.value % 30 !== 0", "value": 0.8}, "value": 1.6}}}
       },
       "layer": [
        {"data": {"name": "traj"}, "transform": [{"filter": "datum.g === 'Tbx5b' && datum.s > 0"}], "mark": {"type": "line", "strokeWidth": 2, "clip": true}, "encoding": {"stroke": {"field": "s", "type": "nominal", "scale": {"domain": [1,2,3,4,5], "range": ["#ff0000","#ccff00","#00ff66","#0066ff","#cc00ff"]}, "legend": null}, "detail": {"field": "i"}, "order": {"field": "t", "type": "quantitative"}}},
        {"data": {"name": "traj"}, "transform": [{"filter": "datum.g === 'Tbx5b' && datum.s === 0"}], "mark": {"type": "line", "strokeWidth": 6, "color": "#000000", "clip": true}, "encoding": {"detail": {"field": "i"}, "order": {"field": "t", "type": "quantitative"}}},
        {"data": {"name": "ell"}, "transform": [{"filter": "datum.g === 'Tbx5b'"}], "mark": {"type": "line", "interpolate": "cardinal-closed", "strokeDash": [2, 3], "strokeWidth": 2, "color": "#000000", "clip": true}, "encoding": {"detail": {"field": "e"}, "order": {"field": "o", "type": "quantitative"}}}
       ]}
    ]},
    {"spacing": 0, "bounds": "flush", "vconcat": [
      {"width": 236, "height": 47, "view": {"fill": "#d9d9d9", "stroke": "#595959", "strokeWidth": 1.2}, "data": {"values": [{"lab": "double"}]}, "mark": {"type": "text", "fontSize": 23, "color": "#1a1a1a"}, "encoding": {"text": {"field": "lab"}}},
      {"width": 236, "height": 133,
       "encoding": {
         "x": {"field": "x", "type": "quantitative", "title": null, "scale": {"domain": [-178, 155], "nice": false, "zero": false}, "axis": {"values": [-150,-100,-50,0,50,100,150], "labelExpr": "datum.value % 100 === 0 ? datum.label : ''", "labelFlush": false, "tickOpacity": {"condition": {"test": "datum.value % 100 !== 0", "value": 0}, "value": 1}, "gridWidth": {"condition": {"test": "datum.value % 100 !== 0", "value": 0.8}, "value": 1.6}}},
         "y": {"field": "t", "type": "quantitative", "title": null, "scale": {"domain": [-3, 62.5], "reverse": true, "nice": false, "zero": false}, "axis": {"values": [0,15,30,45,60], "labels": false, "ticks": false, "gridWidth": {"condition": {"test": "datum.value % 30 !== 0", "value": 0.8}, "value": 1.6}}}
       },
       "layer": [
        {"data": {"name": "traj"}, "transform": [{"filter": "datum.g === 'double' && datum.s > 0"}], "mark": {"type": "line", "strokeWidth": 2, "clip": true}, "encoding": {"stroke": {"field": "s", "type": "nominal", "scale": {"domain": [1,2,3,4,5], "range": ["#ff0000","#ccff00","#00ff66","#0066ff","#cc00ff"]}, "legend": null}, "detail": {"field": "i"}, "order": {"field": "t", "type": "quantitative"}}},
        {"data": {"name": "traj"}, "transform": [{"filter": "datum.g === 'double' && datum.s === 0"}], "mark": {"type": "line", "strokeWidth": 6, "color": "#000000", "clip": true}, "encoding": {"detail": {"field": "i"}, "order": {"field": "t", "type": "quantitative"}}},
        {"data": {"name": "ell"}, "transform": [{"filter": "datum.g === 'double'"}], "mark": {"type": "line", "interpolate": "cardinal-closed", "strokeDash": [2, 3], "strokeWidth": 2, "color": "#000000", "clip": true}, "encoding": {"detail": {"field": "e"}, "order": {"field": "o", "type": "quantitative"}}}
       ]}
    ]}
    ]}
   ]
  }]
 }]
},
{
 "columns": 1,
 "spacing": 7,
 "resolve": {"legend": {"color": "independent", "fill": "independent", "stroke": "independent"}},
 "concat": [
  {
   "spacing": 0,
   "hconcat": [
    {"width": 1, "height": 1, "view": {"stroke": null}, "data": {"values": [{"l": ""}]}, "mark": {"type": "text"}, "encoding": {"text": {"field": "l"}}},
    {"spacing": 1, "hconcat": [
    {"title": {"text": "b", "anchor": "start", "frame": "bounds", "fontSize": 34, "fontWeight": "bold", "offset": -21.7, "dx": 0},
     "vconcat": [{
      "width": 384, "height": 201,
      "title": {"text": "AP compaction", "anchor": "start", "frame": "group", "dx": 16, "offset": 18.6},
      "data": {"name": "comp"},
      "encoding": {
        "x": {"field": "f", "type": "quantitative", "title": "Time", "scale": {"domain": [-6.2, 126], "nice": false, "zero": false}, "axis": {"values": [0,20,40,60,80,100,120], "labelExpr": "datum.value === 0 ? '18 hpf' : datum.value === 40 ? '21 hpf' : datum.value === 80 ? '23 hpf' : datum.value === 120 ? '25 hpf' : ''", "labelFlush": false, "labelPadding": 6, "titlePadding": 5, "tickOpacity": {"condition": {"test": "datum.value % 40 !== 0", "value": 0}, "value": 1}, "gridWidth": {"condition": {"test": "datum.value % 40 !== 0", "value": 0.8}, "value": 1.6}}},
        "color": {"field": "g", "type": "nominal", "scale": {"domain": ["wt","Tbx5a","Tbx5b","double"], "range": ["#000000","#ff0000","#0000ff","#a020f0"]}, "legend": null}
      },
      "layer": [
        {"mark": {"type": "errorbar", "ticks": true, "size": 6, "thickness": 1.6, "opacity": 0.6, "clip": true}, "encoding": {"y": {"field": "lo", "type": "quantitative", "title": "compaction", "scale": {"domain": [0.685, 1.069], "nice": false, "zero": false}, "axis": {"values": [0.7,0.75,0.8,0.85,0.9,0.95,1.0,1.05], "format": ".1f", "labelExpr": "abs(round(datum.value*10) - datum.value*10) < 0.01 ? datum.label : ''", "titlePadding": 8, "tickOpacity": {"condition": {"test": "abs(round(datum.value*10) - datum.value*10) > 0.01", "value": 0}, "value": 1}, "gridWidth": {"condition": {"test": "abs(round(datum.value*10) - datum.value*10) > 0.01", "value": 0.8}, "value": 1.6}}}, "y2": {"field": "hi"}}},
        {"mark": {"type": "line", "strokeWidth": 5, "clip": true}, "encoding": {"y": {"field": "v", "type": "quantitative", "title": "compaction", "scale": {"domain": [0.685, 1.069], "nice": false, "zero": false}, "axis": {"values": [0.7,0.75,0.8,0.85,0.9,0.95,1.0,1.05], "format": ".1f", "labelExpr": "abs(round(datum.value*10) - datum.value*10) < 0.01 ? datum.label : ''", "titlePadding": 8, "tickOpacity": {"condition": {"test": "abs(round(datum.value*10) - datum.value*10) > 0.01", "value": 0}, "value": 1}, "gridWidth": {"condition": {"test": "abs(round(datum.value*10) - datum.value*10) > 0.01", "value": 0.8}, "value": 1.6}}}}}
      ]
     }]
    },
    {"title": {"text": "c", "anchor": "start", "frame": "bounds", "fontSize": 34, "fontWeight": "bold", "offset": -14.7, "dx": 0},
     "vconcat": [{
      "width": 201, "height": 201,
      "title": {"text": "AP scatter", "anchor": "start", "frame": "group", "dx": 19, "offset": 13.6},
      "data": {"name": "scat"},
      "encoding": {
        "x": {"field": "f", "type": "quantitative", "title": "Time", "scale": {"domain": [-4.7, 81.3], "nice": false, "zero": false}, "axis": {"values": [0,20,40,60,80], "labelExpr": "datum.value === 0 ? '18 hpf' : datum.value === 40 ? '21 hpf' : datum.value === 80 ? '23 hpf' : ''", "labelFlush": false, "labelOverlap": false, "labelAlign": {"condition": {"test": "datum.value === 80", "value": "right"}, "value": "center"}, "labelOffset": {"condition": {"test": "datum.value === 40", "value": -15}, "value": 0}, "labelPadding": 6, "titlePadding": 5, "tickOpacity": {"condition": {"test": "datum.value % 40 !== 0", "value": 0}, "value": 1}, "gridWidth": {"condition": {"test": "datum.value % 40 !== 0", "value": 0.8}, "value": 1.6}}},
        "color": {"field": "g", "type": "nominal", "scale": {"domain": ["wt","Tbx5a","Tbx5b","double"], "range": ["#000000","#ff0000","#0000ff","#a020f0"]}, "legend": null}
      },
      "layer": [
        {"mark": {"type": "errorbar", "ticks": true, "size": 5, "thickness": 1.4, "opacity": 0.85, "clip": true}, "encoding": {"y": {"field": "lo", "type": "quantitative", "title": "scatter", "scale": {"domain": [0.7405, 1.115], "nice": false, "zero": false}, "axis": {"values": [0.75,0.8,0.85,0.9,0.95,1.0,1.05,1.1], "format": ".1f", "labelExpr": "abs(round(datum.value*10) - datum.value*10) < 0.01 ? datum.label : ''", "titlePadding": 21, "tickOpacity": {"condition": {"test": "abs(round(datum.value*10) - datum.value*10) > 0.01", "value": 0}, "value": 1}, "gridWidth": {"condition": {"test": "abs(round(datum.value*10) - datum.value*10) > 0.01", "value": 0.8}, "value": 1.6}}}, "y2": {"field": "hi"}}},
        {"mark": {"type": "point", "filled": true, "size": 50, "opacity": 0.9, "clip": true}, "encoding": {"y": {"field": "v", "type": "quantitative", "title": "scatter", "scale": {"domain": [0.7405, 1.115], "nice": false, "zero": false}, "axis": {"values": [0.75,0.8,0.85,0.9,0.95,1.0,1.05,1.1], "format": ".1f", "labelExpr": "abs(round(datum.value*10) - datum.value*10) < 0.01 ? datum.label : ''", "titlePadding": 21, "tickOpacity": {"condition": {"test": "abs(round(datum.value*10) - datum.value*10) > 0.01", "value": 0}, "value": 1}, "gridWidth": {"condition": {"test": "abs(round(datum.value*10) - datum.value*10) > 0.01", "value": 0.8}, "value": 1.6}}}}}
      ]
     }]
    },
    {"width": 26, "height": 1, "view": {"stroke": null}, "data": {"values": [{"l": ""}]}, "mark": {"type": "text"}, "encoding": {"text": {"field": "l"}}},
    {"title": {"text": "d", "anchor": "start", "frame": "bounds", "fontSize": 34, "fontWeight": "bold", "offset": -14.7, "dx": 0},
     "vconcat": [{
      "width": 202, "height": 201,
      "title": {"text": "AP displacement", "anchor": "start", "frame": "group", "dx": -48, "offset": -9.4},
      "data": {"name": "disp"},
      "mark": {"type": "point", "filled": true, "size": 75, "opacity": 0.9, "clip": true},
      "encoding": {
        "x": {"field": "f", "type": "quantitative", "title": "Time", "scale": {"domain": [-3.4, 83.4], "nice": false, "zero": false}, "axis": {"values": [0,20,40,60,80], "labelExpr": "datum.value === 0 ? '18 hpf' : datum.value === 40 ? '21 hpf' : datum.value === 80 ? '23 hpf' : ''", "labelFlush": false, "labelOverlap": false, "labelAlign": {"condition": {"test": "datum.value === 80", "value": "right"}, "value": "center"}, "labelOffset": {"condition": {"test": "datum.value === 40", "value": -15}, "value": 0}, "labelPadding": 6, "titlePadding": 5, "tickOpacity": {"condition": {"test": "datum.value % 40 !== 0", "value": 0}, "value": 1}, "gridWidth": {"condition": {"test": "datum.value % 40 !== 0", "value": 0.8}, "value": 1.6}}},
        "y": {"field": "v", "type": "quantitative", "title": "displacement (μm)", "scale": {"domain": [-1.7, 40.4], "nice": false, "zero": false}, "axis": {"values": [0,5,10,15,20,25,30,35,40], "labelExpr": "datum.value % 10 === 0 ? datum.label : ''", "titlePadding": 22, "tickOpacity": {"condition": {"test": "datum.value % 10 !== 0", "value": 0}, "value": 1}, "gridWidth": {"condition": {"test": "datum.value % 10 !== 0", "value": 0.8}, "value": 1.6}}},
        "color": {"field": "g", "type": "nominal", "scale": {"domain": ["wt","Tbx5a","Tbx5b","double"], "range": ["#000000","#ff0000","#0000ff","#a020f0"]}, "legend": null}
      }
     }]
    }
    ]}
   ]
  },
  {
   "columns": 1,
   "spacing": 12,
   "resolve": {"legend": {"color": "independent", "fill": "independent", "stroke": "independent"}},
   "concat": [
    {
     "title": {"text": "e", "anchor": "start", "frame": "bounds", "fontSize": 34, "fontWeight": "bold", "offset": -3.6, "dx": 0},
     "vconcat": [{
      "title": {"text": "AP displacement compared to starting AP position", "anchor": "start", "frame": "bounds", "dx": 121, "offset": -25.4},
      "vconcat": [{
       "title": {"text": "starting position", "orient": "bottom", "anchor": "middle", "frame": "bounds", "fontSize": 30, "dx": 60, "offset": 8},
       "spacing": 0,
       "hconcat": [
        {"width": 1, "height": 1, "view": {"stroke": null}, "data": {"values": [{"l": ""}]}, "mark": {"type": "text"}, "encoding": {"text": {"field": "l"}}},
        {"spacing": 10, "hconcat": [
        {"spacing": 0, "bounds": "flush", "vconcat": [
          {"width": 237, "height": 47, "view": {"fill": "#d9d9d9", "stroke": "#595959", "strokeWidth": 1.2}, "data": {"values": [{"lab": "wt"}]}, "mark": {"type": "text", "fontSize": 23, "color": "#1a1a1a"}, "encoding": {"text": {"field": "lab"}}},
          {"width": 237, "height": 136, "view": {"stroke": "#333333", "strokeWidth": 2.2},
           "encoding": {
             "x": {"field": "x", "type": "quantitative", "title": null, "scale": {"domain": [-30, 325], "nice": false, "zero": false}, "axis": {"values": [0,50,100,150,200,250,300], "labelExpr": "datum.value % 100 === 0 ? datum.label : ''", "labelFlush": false, "tickOpacity": {"condition": {"test": "datum.value % 100 !== 0", "value": 0}, "value": 1}, "gridWidth": {"condition": {"test": "datum.value % 100 !== 0", "value": 1.2}, "value": 2.4}}},
             "y": {"field": "y", "type": "quantitative", "title": "displacement (μm)", "scale": {"domain": [-50.5, 102], "nice": false, "zero": false}, "axis": {"values": [-50,-25,0,25,50,75,100], "labelExpr": "datum.value % 50 === 0 ? datum.label : ''", "titlePadding": 36, "titleY": 44, "tickOpacity": {"condition": {"test": "datum.value % 50 !== 0", "value": 0}, "value": 1}, "gridWidth": {"condition": {"test": "datum.value % 50 !== 0", "value": 1.2}, "value": 2.4}}}
           },
           "layer": [
            {"data": {"name": "epts"}, "transform": [{"filter": "datum.g === 'wt'"}], "mark": {"type": "point", "filled": true, "size": 130, "fillOpacity": 0.18, "strokeOpacity": 0.4, "strokeWidth": 1, "clip": true}, "encoding": {"fill": {"field": "s", "type": "nominal", "scale": {"domain": [1,2,3,4,5], "range": ["#ff0000","#ccff00","#00ff66","#0066ff","#cc00ff"]}, "legend": null}, "stroke": {"field": "s", "type": "nominal", "scale": {"domain": [1,2,3,4,5], "range": ["#ff0000","#ccff00","#00ff66","#0066ff","#cc00ff"]}, "legend": null}}},
            {"data": {"name": "eline"}, "transform": [{"filter": "datum.g === 'wt'"}], "mark": {"type": "area", "color": "#333333", "opacity": 0.45, "clip": true}, "encoding": {"y": {"field": "lo", "type": "quantitative", "title": "displacement (μm)"}, "y2": {"field": "hi"}}},
            {"data": {"name": "eline"}, "transform": [{"filter": "datum.g === 'wt'"}], "mark": {"type": "line", "color": "#111111", "strokeWidth": 1.6, "clip": true}}
           ]}
        ]},
        {"spacing": 0, "bounds": "flush", "vconcat": [
          {"width": 237, "height": 47, "view": {"fill": "#d9d9d9", "stroke": "#595959", "strokeWidth": 1.2}, "data": {"values": [{"lab": "Tbx5a"}]}, "mark": {"type": "text", "fontSize": 23, "color": "#1a1a1a"}, "encoding": {"text": {"field": "lab"}}},
          {"width": 237, "height": 136, "view": {"stroke": "#333333", "strokeWidth": 2.2},
           "encoding": {
             "x": {"field": "x", "type": "quantitative", "title": null, "scale": {"domain": [-30, 325], "nice": false, "zero": false}, "axis": {"values": [0,50,100,150,200,250,300], "labelExpr": "datum.value % 100 === 0 ? datum.label : ''", "labelFlush": false, "tickOpacity": {"condition": {"test": "datum.value % 100 !== 0", "value": 0}, "value": 1}, "gridWidth": {"condition": {"test": "datum.value % 100 !== 0", "value": 1.2}, "value": 2.4}}},
             "y": {"field": "y", "type": "quantitative", "title": null, "scale": {"domain": [-50.5, 102], "nice": false, "zero": false}, "axis": {"values": [-50,-25,0,25,50,75,100], "labels": false, "ticks": false, "gridWidth": {"condition": {"test": "datum.value % 50 !== 0", "value": 1.2}, "value": 2.4}}}
           },
           "layer": [
            {"data": {"name": "epts"}, "transform": [{"filter": "datum.g === 'Tbx5a'"}], "mark": {"type": "point", "filled": true, "size": 130, "fillOpacity": 0.18, "strokeOpacity": 0.4, "strokeWidth": 1, "clip": true}, "encoding": {"fill": {"field": "s", "type": "nominal", "scale": {"domain": [1,2,3,4,5], "range": ["#ff0000","#ccff00","#00ff66","#0066ff","#cc00ff"]}, "legend": null}, "stroke": {"field": "s", "type": "nominal", "scale": {"domain": [1,2,3,4,5], "range": ["#ff0000","#ccff00","#00ff66","#0066ff","#cc00ff"]}, "legend": null}}},
            {"data": {"name": "eline"}, "transform": [{"filter": "datum.g === 'Tbx5a'"}], "mark": {"type": "area", "color": "#333333", "opacity": 0.45, "clip": true}, "encoding": {"y": {"field": "lo", "type": "quantitative", "title": null}, "y2": {"field": "hi"}}},
            {"data": {"name": "eline"}, "transform": [{"filter": "datum.g === 'Tbx5a'"}], "mark": {"type": "line", "color": "#111111", "strokeWidth": 1.6, "clip": true}},
            {"data": {"name": "eline"}, "transform": [{"filter": "datum.g === 'wt'"}], "mark": {"type": "line", "color": "#000000", "strokeWidth": 2, "strokeDash": [2, 3], "clip": true}}
           ]}
        ]},
        {"spacing": 0, "bounds": "flush", "vconcat": [
          {"width": 237, "height": 47, "view": {"fill": "#d9d9d9", "stroke": "#595959", "strokeWidth": 1.2}, "data": {"values": [{"lab": "Tbx5b"}]}, "mark": {"type": "text", "fontSize": 23, "color": "#1a1a1a"}, "encoding": {"text": {"field": "lab"}}},
          {"width": 237, "height": 136, "view": {"stroke": "#333333", "strokeWidth": 2.2},
           "encoding": {
             "x": {"field": "x", "type": "quantitative", "title": null, "scale": {"domain": [-30, 325], "nice": false, "zero": false}, "axis": {"values": [0,50,100,150,200,250,300], "labelExpr": "datum.value % 100 === 0 ? datum.label : ''", "labelFlush": false, "tickOpacity": {"condition": {"test": "datum.value % 100 !== 0", "value": 0}, "value": 1}, "gridWidth": {"condition": {"test": "datum.value % 100 !== 0", "value": 1.2}, "value": 2.4}}},
             "y": {"field": "y", "type": "quantitative", "title": null, "scale": {"domain": [-50.5, 102], "nice": false, "zero": false}, "axis": {"values": [-50,-25,0,25,50,75,100], "labels": false, "ticks": false, "gridWidth": {"condition": {"test": "datum.value % 50 !== 0", "value": 1.2}, "value": 2.4}}}
           },
           "layer": [
            {"data": {"name": "epts"}, "transform": [{"filter": "datum.g === 'Tbx5b'"}], "mark": {"type": "point", "filled": true, "size": 130, "fillOpacity": 0.18, "strokeOpacity": 0.4, "strokeWidth": 1, "clip": true}, "encoding": {"fill": {"field": "s", "type": "nominal", "scale": {"domain": [1,2,3,4,5], "range": ["#ff0000","#ccff00","#00ff66","#0066ff","#cc00ff"]}, "legend": null}, "stroke": {"field": "s", "type": "nominal", "scale": {"domain": [1,2,3,4,5], "range": ["#ff0000","#ccff00","#00ff66","#0066ff","#cc00ff"]}, "legend": null}}},
            {"data": {"name": "eline"}, "transform": [{"filter": "datum.g === 'Tbx5b'"}], "mark": {"type": "area", "color": "#333333", "opacity": 0.45, "clip": true}, "encoding": {"y": {"field": "lo", "type": "quantitative", "title": null}, "y2": {"field": "hi"}}},
            {"data": {"name": "eline"}, "transform": [{"filter": "datum.g === 'Tbx5b'"}], "mark": {"type": "line", "color": "#111111", "strokeWidth": 1.6, "clip": true}},
            {"data": {"name": "eline"}, "transform": [{"filter": "datum.g === 'wt'"}], "mark": {"type": "line", "color": "#000000", "strokeWidth": 2, "strokeDash": [2, 3], "clip": true}}
           ]}
        ]},
        {"spacing": 0, "bounds": "flush", "vconcat": [
          {"width": 237, "height": 47, "view": {"fill": "#d9d9d9", "stroke": "#595959", "strokeWidth": 1.2}, "data": {"values": [{"lab": "double"}]}, "mark": {"type": "text", "fontSize": 23, "color": "#1a1a1a"}, "encoding": {"text": {"field": "lab"}}},
          {"width": 237, "height": 136, "view": {"stroke": "#333333", "strokeWidth": 2.2},
           "encoding": {
             "x": {"field": "x", "type": "quantitative", "title": null, "scale": {"domain": [-30, 325], "nice": false, "zero": false}, "axis": {"values": [0,50,100,150,200,250,300], "labelExpr": "datum.value % 100 === 0 ? datum.label : ''", "labelFlush": false, "tickOpacity": {"condition": {"test": "datum.value % 100 !== 0", "value": 0}, "value": 1}, "gridWidth": {"condition": {"test": "datum.value % 100 !== 0", "value": 1.2}, "value": 2.4}}},
             "y": {"field": "y", "type": "quantitative", "title": null, "scale": {"domain": [-50.5, 102], "nice": false, "zero": false}, "axis": {"values": [-50,-25,0,25,50,75,100], "labels": false, "ticks": false, "gridWidth": {"condition": {"test": "datum.value % 50 !== 0", "value": 1.2}, "value": 2.4}}}
           },
           "layer": [
            {"data": {"name": "epts"}, "transform": [{"filter": "datum.g === 'double'"}], "mark": {"type": "point", "filled": true, "size": 130, "fillOpacity": 0.18, "strokeOpacity": 0.4, "strokeWidth": 1, "clip": true}, "encoding": {"fill": {"field": "s", "type": "nominal", "scale": {"domain": [1,2,3,4,5], "range": ["#ff0000","#ccff00","#00ff66","#0066ff","#cc00ff"]}, "legend": null}, "stroke": {"field": "s", "type": "nominal", "scale": {"domain": [1,2,3,4,5], "range": ["#ff0000","#ccff00","#00ff66","#0066ff","#cc00ff"]}, "legend": null}}},
            {"data": {"name": "eline"}, "transform": [{"filter": "datum.g === 'double'"}], "mark": {"type": "area", "color": "#333333", "opacity": 0.45, "clip": true}, "encoding": {"y": {"field": "lo", "type": "quantitative", "title": null}, "y2": {"field": "hi"}}},
            {"data": {"name": "eline"}, "transform": [{"filter": "datum.g === 'double'"}], "mark": {"type": "line", "color": "#111111", "strokeWidth": 1.6, "clip": true}},
            {"data": {"name": "eline"}, "transform": [{"filter": "datum.g === 'wt'"}], "mark": {"type": "line", "color": "#000000", "strokeWidth": 2, "strokeDash": [2, 3], "clip": true}}
           ]}
        ]}
        ]}
       ]
      }]
     }]
    },
    {
     "spacing": 0,
     "resolve": {"legend": {"color": "independent", "fill": "independent"}},
     "hconcat": [
      {"width": 53, "height": 42, "view": {"stroke": null}, "data": {"values": [{"l": ""}]}, "mark": {"type": "text"}, "encoding": {"text": {"field": "l"}}},
      {"width": 55, "height": 42, "view": {"fill": "#d9d9d9", "stroke": "#333333", "strokeWidth": 1}, "data": {"values": [{"l": "key"}]}, "mark": {"type": "text", "fontSize": 24, "fontWeight": "bold", "color": "#1a1a1a"}, "encoding": {"text": {"field": "l"}}},
      {"width": 1013, "height": 42, "view": {"stroke": "#333333", "strokeWidth": 1},
       "layer": [
        {"data": {"values": [{"g": "wt"}, {"g": "Tbx5a"}, {"g": "Tbx5b"}, {"g": "double"}]}, "mark": {"type": "point", "filled": true, "opacity": 0},
         "encoding": {"color": {"field": "g", "type": "nominal", "scale": {"domain": ["wt","Tbx5a","Tbx5b","double"], "range": ["#000000","#ff0000","#0000ff","#a020f0"]},
           "legend": {"orient": "none", "legendX": 8, "legendY": 9, "direction": "horizontal", "columns": 4, "title": "genotype", "titleOrient": "left", "titleFontSize": 22, "titleFontWeight": "bold", "titleColor": "#000000", "titlePadding": 22, "labelFontSize": 22, "labelColor": "#000000", "symbolType": "circle", "symbolSize": 90, "symbolOpacity": 1, "symbolStrokeWidth": 0, "columnPadding": 22, "labelOffset": 10}}}},
        {"data": {"values": [{"s": 1}, {"s": 2}, {"s": 3}, {"s": 4}, {"s": 5}]}, "mark": {"type": "square", "opacity": 0},
         "encoding": {"fill": {"field": "s", "type": "nominal", "scale": {"domain": [1,2,3,4,5], "range": ["#ff0000","#ccff00","#00ff66","#0066ff","#cc00ff"]},
           "legend": {"orient": "none", "legendX": 573, "legendY": 9, "direction": "horizontal", "columns": 5, "title": "somite", "titleOrient": "left", "titleFontSize": 22, "titleFontWeight": "bold", "titleColor": "#000000", "titlePadding": 23, "labelFontSize": 22, "labelColor": "#000000", "symbolType": "square", "symbolSize": 300, "symbolOpacity": 1, "symbolStrokeWidth": 0, "columnPadding": 22, "labelOffset": 10}}}}
       ]}
     ]
    }
   ]
  }
 ]
}
]
}
